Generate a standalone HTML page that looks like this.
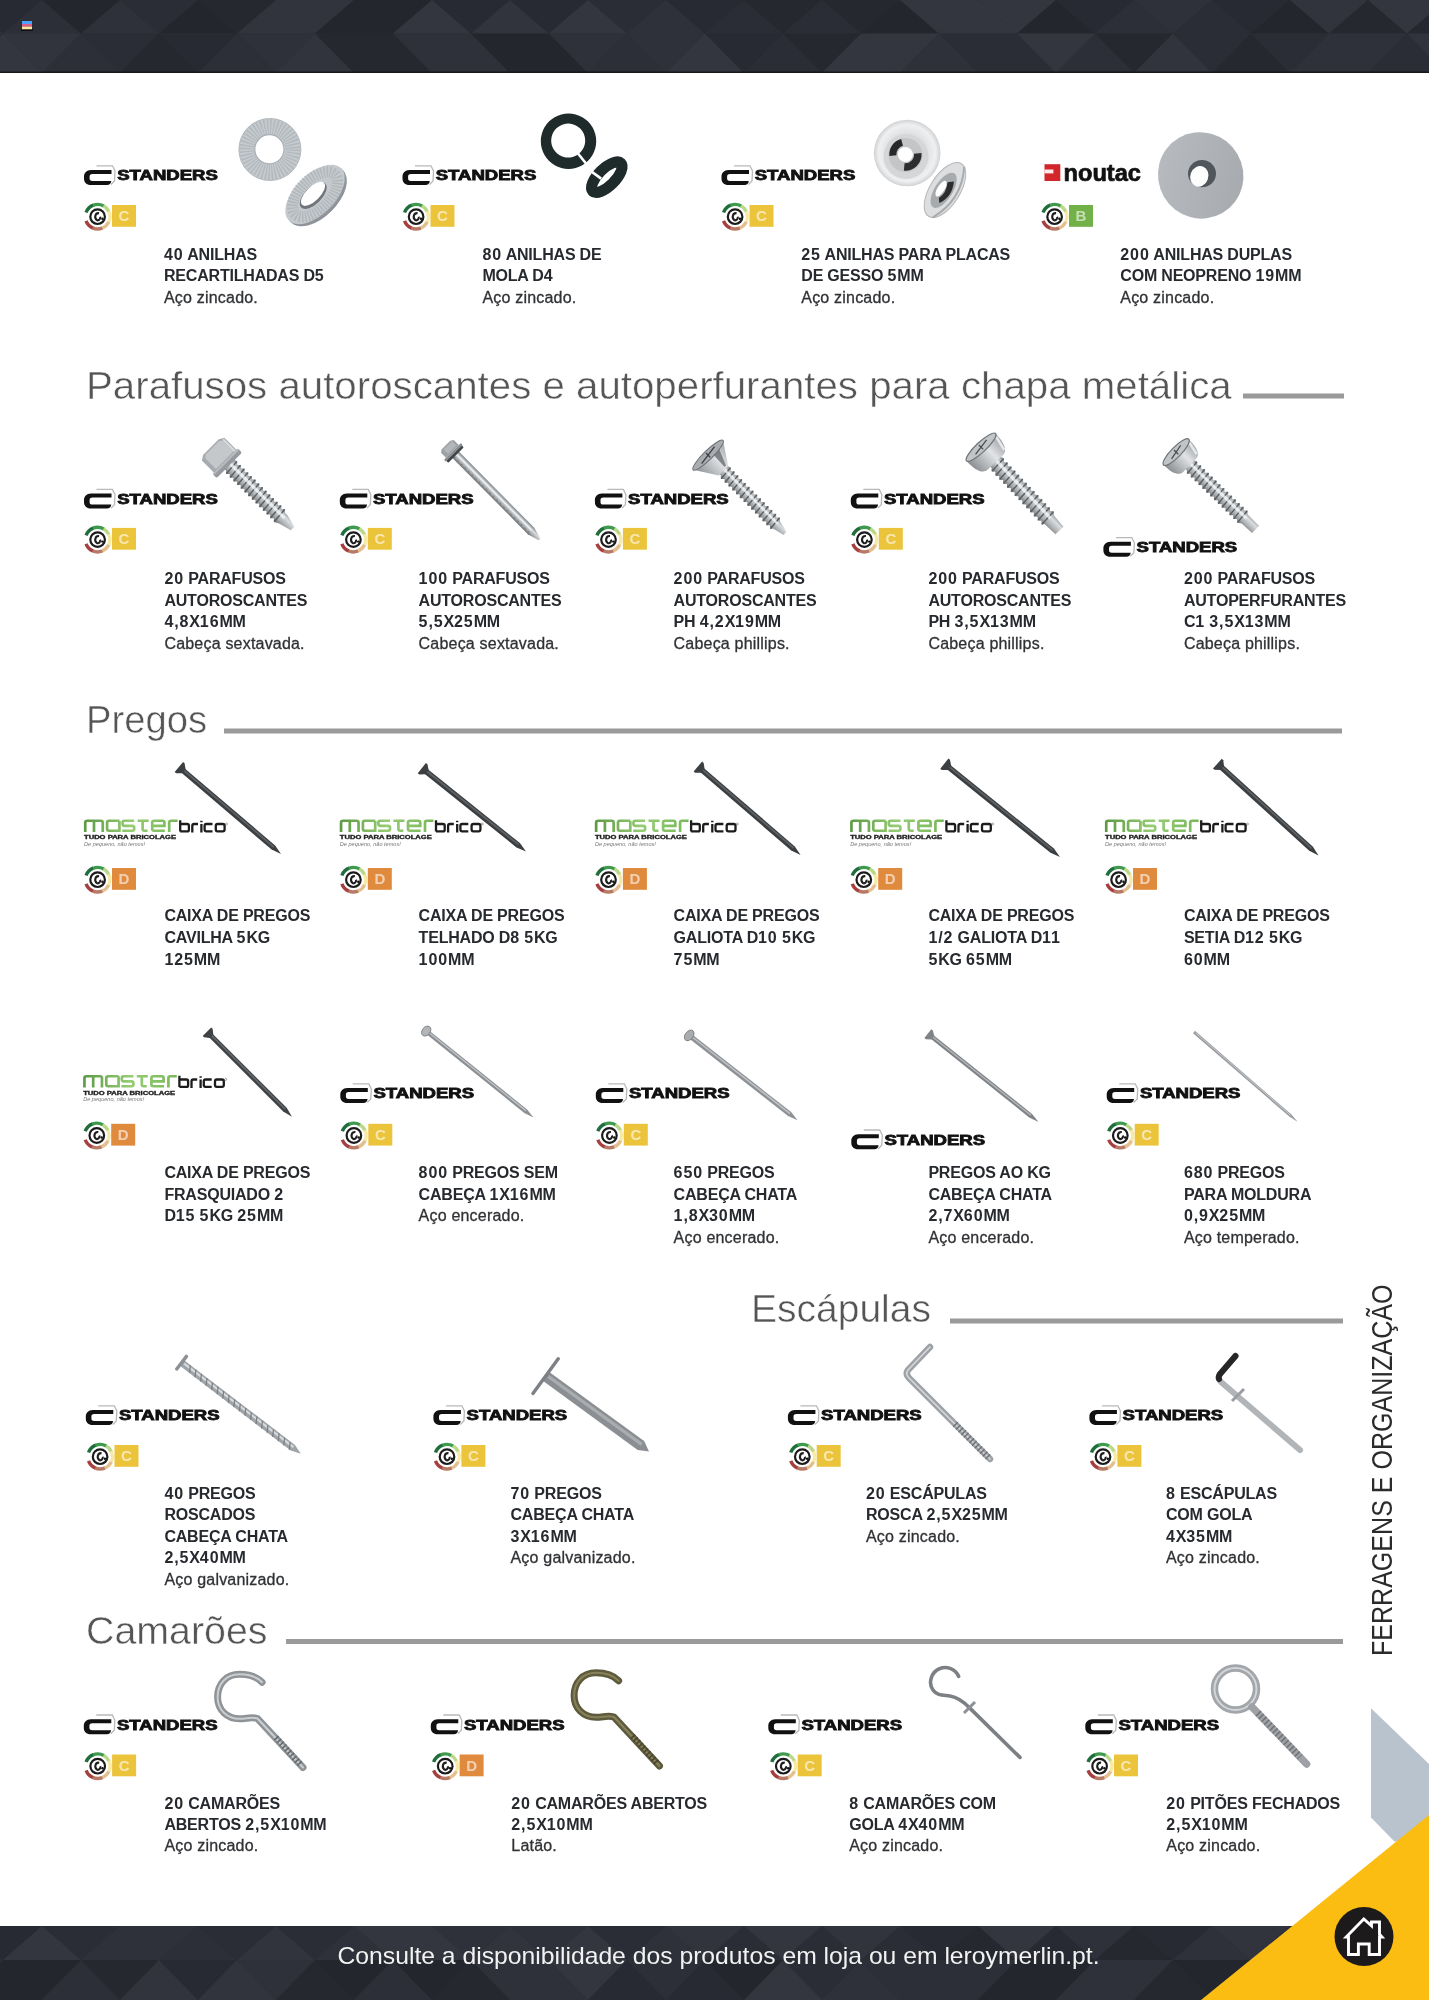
<!DOCTYPE html>
<html lang="pt"><head><meta charset="utf-8"><title>Ferragens e Organização</title>
<style>
html,body{margin:0;padding:0;background:#fff;}
body{width:1429px;height:2000px;position:relative;overflow:hidden;font-family:"Liberation Sans", sans-serif;filter:blur(0.35px);}
svg.bg{position:absolute;left:0;top:0;}
.tb,.tr{position:absolute;font-size:16px;line-height:20px;white-space:nowrap;color:#26292d;}
.tb{font-weight:bold;letter-spacing:-0.2px;}
.tb .d{letter-spacing:0.9px;}
.tr{font-weight:normal;letter-spacing:0.2px;color:#303235;-webkit-text-stroke:0.3px #303235;}
.h{position:absolute;line-height:1;white-space:nowrap;color:#555;-webkit-text-stroke:0.5px #fff;}
.h span{display:inline-block;transform-origin:0 0;}
</style></head>
<body>
<svg class="bg" width="1429" height="2000" viewBox="0 0 1429 2000">
<defs>
<linearGradient id="gmaster" gradientUnits="userSpaceOnUse" x1="0" x2="94" y1="0" y2="0">
 <stop offset="0" stop-color="#5d9a44"/><stop offset="0.5" stop-color="#95cc74"/><stop offset="1" stop-color="#79b85a"/>
</linearGradient>
<linearGradient id="gsteel" x1="0" x2="0" y1="0" y2="1">
 <stop offset="0" stop-color="#7f8488"/><stop offset="0.35" stop-color="#dadddf"/><stop offset="0.7" stop-color="#a9adb0"/><stop offset="1" stop-color="#6a6f73"/>
</linearGradient>
<linearGradient id="gsteel2" x1="0" x2="0" y1="0" y2="1">
 <stop offset="0" stop-color="#9da1a5"/><stop offset="0.4" stop-color="#e1e3e5"/><stop offset="1" stop-color="#8a8e92"/>
</linearGradient>
<radialGradient id="gcup" cx="0.5" cy="0.5" r="0.5">
 <stop offset="0.6" stop-color="#dfe1e3"/><stop offset="0.85" stop-color="#eff0f1"/><stop offset="0.97" stop-color="#d6d8da"/><stop offset="1" stop-color="#c9cbcd"/>
</radialGradient>
<radialGradient id="gcupin" cx="0.45" cy="0.45" r="0.5">
 <stop offset="0.3" stop-color="#555a5e"/><stop offset="0.7" stop-color="#9b9fa2"/><stop offset="1" stop-color="#d0d2d4"/>
</radialGradient>
<linearGradient id="gneo" x1="0" x2="1" y1="0" y2="1">
 <stop offset="0" stop-color="#b9bdc1"/><stop offset="0.6" stop-color="#adb1b5"/><stop offset="1" stop-color="#a4a8ac"/>
</linearGradient>
</defs>
<rect x="0" y="0" width="1429" height="73" fill="#2b2e36"/>
<polygon points="-75.0,33.6 -36.0,0.0 3.0,33.6" fill="#31343c"/>
<polygon points="-36.0,0.0 3.0,33.6 42.0,0.0" fill="#272a32"/>
<polygon points="3.0,33.6 42.0,0.0 81.0,33.6" fill="#2c2f37"/>
<polygon points="42.0,0.0 81.0,33.6 120.0,0.0" fill="#23262d"/>
<polygon points="81.0,33.6 120.0,0.0 159.0,33.6" fill="#2e3139"/>
<polygon points="120.0,0.0 159.0,33.6 198.0,0.0" fill="#2a2d35"/>
<polygon points="159.0,33.6 198.0,0.0 237.0,33.6" fill="#23262d"/>
<polygon points="198.0,0.0 237.0,33.6 276.0,0.0" fill="#25282f"/>
<polygon points="237.0,33.6 276.0,0.0 315.0,33.6" fill="#31343c"/>
<polygon points="276.0,0.0 315.0,33.6 354.0,0.0" fill="#31343c"/>
<polygon points="315.0,33.6 354.0,0.0 393.0,33.6" fill="#23262d"/>
<polygon points="354.0,0.0 393.0,33.6 432.0,0.0" fill="#23262d"/>
<polygon points="393.0,33.6 432.0,0.0 471.0,33.6" fill="#33363e"/>
<polygon points="432.0,0.0 471.0,33.6 510.0,0.0" fill="#272a32"/>
<polygon points="471.0,33.6 510.0,0.0 549.0,33.6" fill="#31343c"/>
<polygon points="510.0,0.0 549.0,33.6 588.0,0.0" fill="#272a32"/>
<polygon points="549.0,33.6 588.0,0.0 627.0,33.6" fill="#33363e"/>
<polygon points="588.0,0.0 627.0,33.6 666.0,0.0" fill="#2a2d35"/>
<polygon points="627.0,33.6 666.0,0.0 705.0,33.6" fill="#2e3139"/>
<polygon points="666.0,0.0 705.0,33.6 744.0,0.0" fill="#272a32"/>
<polygon points="705.0,33.6 744.0,0.0 783.0,33.6" fill="#2a2d35"/>
<polygon points="744.0,0.0 783.0,33.6 822.0,0.0" fill="#25282f"/>
<polygon points="783.0,33.6 822.0,0.0 861.0,33.6" fill="#2a2d35"/>
<polygon points="822.0,0.0 861.0,33.6 900.0,0.0" fill="#25282f"/>
<polygon points="861.0,33.6 900.0,0.0 939.0,33.6" fill="#23262d"/>
<polygon points="900.0,0.0 939.0,33.6 978.0,0.0" fill="#33363e"/>
<polygon points="939.0,33.6 978.0,0.0 1017.0,33.6" fill="#33363e"/>
<polygon points="978.0,0.0 1017.0,33.6 1056.0,0.0" fill="#33363e"/>
<polygon points="1017.0,33.6 1056.0,0.0 1095.0,33.6" fill="#23262d"/>
<polygon points="1056.0,0.0 1095.0,33.6 1134.0,0.0" fill="#272a32"/>
<polygon points="1095.0,33.6 1134.0,0.0 1173.0,33.6" fill="#2c2f37"/>
<polygon points="1134.0,0.0 1173.0,33.6 1212.0,0.0" fill="#2e3139"/>
<polygon points="1173.0,33.6 1212.0,0.0 1251.0,33.6" fill="#2a2d35"/>
<polygon points="1212.0,0.0 1251.0,33.6 1290.0,0.0" fill="#272a32"/>
<polygon points="1251.0,33.6 1290.0,0.0 1329.0,33.6" fill="#23262d"/>
<polygon points="1290.0,0.0 1329.0,33.6 1368.0,0.0" fill="#31343c"/>
<polygon points="1329.0,33.6 1368.0,0.0 1407.0,33.6" fill="#25282f"/>
<polygon points="1368.0,0.0 1407.0,33.6 1446.0,0.0" fill="#33363e"/>
<polygon points="1407.0,33.6 1446.0,0.0 1485.0,33.6" fill="#25282f"/>
<polygon points="1446.0,0.0 1485.0,33.6 1524.0,0.0" fill="#33363e"/>
<polygon points="1485.0,33.6 1524.0,0.0 1563.0,33.6" fill="#33363e"/>
<polygon points="-75.0,33.6 -36.0,73.0 3.0,33.6" fill="#2c2f37"/>
<polygon points="-36.0,73.0 3.0,33.6 42.0,73.0" fill="#33363e"/>
<polygon points="3.0,33.6 42.0,73.0 81.0,33.6" fill="#31343c"/>
<polygon points="42.0,73.0 81.0,33.6 120.0,73.0" fill="#2c2f37"/>
<polygon points="81.0,33.6 120.0,73.0 159.0,33.6" fill="#2a2d35"/>
<polygon points="120.0,73.0 159.0,33.6 198.0,73.0" fill="#25282f"/>
<polygon points="159.0,33.6 198.0,73.0 237.0,33.6" fill="#272a32"/>
<polygon points="198.0,73.0 237.0,33.6 276.0,73.0" fill="#2c2f37"/>
<polygon points="237.0,33.6 276.0,73.0 315.0,33.6" fill="#2e3139"/>
<polygon points="276.0,73.0 315.0,33.6 354.0,73.0" fill="#31343c"/>
<polygon points="315.0,33.6 354.0,73.0 393.0,33.6" fill="#25282f"/>
<polygon points="354.0,73.0 393.0,33.6 432.0,73.0" fill="#25282f"/>
<polygon points="393.0,33.6 432.0,73.0 471.0,33.6" fill="#2e3139"/>
<polygon points="432.0,73.0 471.0,33.6 510.0,73.0" fill="#2e3139"/>
<polygon points="471.0,33.6 510.0,73.0 549.0,33.6" fill="#23262d"/>
<polygon points="510.0,73.0 549.0,33.6 588.0,73.0" fill="#23262d"/>
<polygon points="549.0,33.6 588.0,73.0 627.0,33.6" fill="#2e3139"/>
<polygon points="588.0,73.0 627.0,33.6 666.0,73.0" fill="#2c2f37"/>
<polygon points="627.0,33.6 666.0,73.0 705.0,33.6" fill="#2e3139"/>
<polygon points="666.0,73.0 705.0,33.6 744.0,73.0" fill="#33363e"/>
<polygon points="705.0,33.6 744.0,73.0 783.0,33.6" fill="#272a32"/>
<polygon points="744.0,73.0 783.0,33.6 822.0,73.0" fill="#2a2d35"/>
<polygon points="783.0,33.6 822.0,73.0 861.0,33.6" fill="#25282f"/>
<polygon points="822.0,73.0 861.0,33.6 900.0,73.0" fill="#33363e"/>
<polygon points="861.0,33.6 900.0,73.0 939.0,33.6" fill="#33363e"/>
<polygon points="900.0,73.0 939.0,33.6 978.0,73.0" fill="#2e3139"/>
<polygon points="939.0,33.6 978.0,73.0 1017.0,33.6" fill="#2a2d35"/>
<polygon points="978.0,73.0 1017.0,33.6 1056.0,73.0" fill="#2a2d35"/>
<polygon points="1017.0,33.6 1056.0,73.0 1095.0,33.6" fill="#33363e"/>
<polygon points="1056.0,73.0 1095.0,33.6 1134.0,73.0" fill="#2c2f37"/>
<polygon points="1095.0,33.6 1134.0,73.0 1173.0,33.6" fill="#25282f"/>
<polygon points="1134.0,73.0 1173.0,33.6 1212.0,73.0" fill="#31343c"/>
<polygon points="1173.0,33.6 1212.0,73.0 1251.0,33.6" fill="#2a2d35"/>
<polygon points="1212.0,73.0 1251.0,33.6 1290.0,73.0" fill="#25282f"/>
<polygon points="1251.0,33.6 1290.0,73.0 1329.0,33.6" fill="#2a2d35"/>
<polygon points="1290.0,73.0 1329.0,33.6 1368.0,73.0" fill="#2e3139"/>
<polygon points="1329.0,33.6 1368.0,73.0 1407.0,33.6" fill="#2e3139"/>
<polygon points="1368.0,73.0 1407.0,33.6 1446.0,73.0" fill="#2a2d35"/>
<polygon points="1407.0,33.6 1446.0,73.0 1485.0,33.6" fill="#31343c"/>
<polygon points="1446.0,73.0 1485.0,33.6 1524.0,73.0" fill="#33363e"/>
<polygon points="1485.0,33.6 1524.0,73.0 1563.0,33.6" fill="#25282f"/>
<rect x="0" y="71.5" width="1429" height="1.5" fill="#15171b"/>
<g><rect x="22" y="21" width="10" height="3" fill="#4aa3ff"/><rect x="22" y="24" width="10" height="2.5" fill="#e05a8a"/><rect x="22" y="26.5" width="10" height="3" fill="#ffe6a0"/><rect x="21" y="29.5" width="12" height="1.5" fill="#111"/></g>
<rect x="0" y="1926" width="1429" height="74" fill="#2b2e36"/>
<polygon points="-75.0,1960.0 -36.0,1926.0 3.0,1960.0" fill="#2c2f37"/>
<polygon points="-36.0,1926.0 3.0,1960.0 42.0,1926.0" fill="#272a32"/>
<polygon points="3.0,1960.0 42.0,1926.0 81.0,1960.0" fill="#33363e"/>
<polygon points="42.0,1926.0 81.0,1960.0 120.0,1926.0" fill="#2a2d35"/>
<polygon points="81.0,1960.0 120.0,1926.0 159.0,1960.0" fill="#2e3139"/>
<polygon points="120.0,1926.0 159.0,1960.0 198.0,1926.0" fill="#2e3139"/>
<polygon points="159.0,1960.0 198.0,1926.0 237.0,1960.0" fill="#2c2f37"/>
<polygon points="198.0,1926.0 237.0,1960.0 276.0,1926.0" fill="#2a2d35"/>
<polygon points="237.0,1960.0 276.0,1926.0 315.0,1960.0" fill="#31343c"/>
<polygon points="276.0,1926.0 315.0,1960.0 354.0,1926.0" fill="#2a2d35"/>
<polygon points="315.0,1960.0 354.0,1926.0 393.0,1960.0" fill="#2e3139"/>
<polygon points="354.0,1926.0 393.0,1960.0 432.0,1926.0" fill="#33363e"/>
<polygon points="393.0,1960.0 432.0,1926.0 471.0,1960.0" fill="#33363e"/>
<polygon points="432.0,1926.0 471.0,1960.0 510.0,1926.0" fill="#2e3139"/>
<polygon points="471.0,1960.0 510.0,1926.0 549.0,1960.0" fill="#31343c"/>
<polygon points="510.0,1926.0 549.0,1960.0 588.0,1926.0" fill="#2e3139"/>
<polygon points="549.0,1960.0 588.0,1926.0 627.0,1960.0" fill="#33363e"/>
<polygon points="588.0,1926.0 627.0,1960.0 666.0,1926.0" fill="#2a2d35"/>
<polygon points="627.0,1960.0 666.0,1926.0 705.0,1960.0" fill="#2e3139"/>
<polygon points="666.0,1926.0 705.0,1960.0 744.0,1926.0" fill="#31343c"/>
<polygon points="705.0,1960.0 744.0,1926.0 783.0,1960.0" fill="#2a2d35"/>
<polygon points="744.0,1926.0 783.0,1960.0 822.0,1926.0" fill="#33363e"/>
<polygon points="783.0,1960.0 822.0,1926.0 861.0,1960.0" fill="#2a2d35"/>
<polygon points="822.0,1926.0 861.0,1960.0 900.0,1926.0" fill="#31343c"/>
<polygon points="861.0,1960.0 900.0,1926.0 939.0,1960.0" fill="#2a2d35"/>
<polygon points="900.0,1926.0 939.0,1960.0 978.0,1926.0" fill="#272a32"/>
<polygon points="939.0,1960.0 978.0,1926.0 1017.0,1960.0" fill="#25282f"/>
<polygon points="978.0,1926.0 1017.0,1960.0 1056.0,1926.0" fill="#33363e"/>
<polygon points="1017.0,1960.0 1056.0,1926.0 1095.0,1960.0" fill="#272a32"/>
<polygon points="1056.0,1926.0 1095.0,1960.0 1134.0,1926.0" fill="#2e3139"/>
<polygon points="1095.0,1960.0 1134.0,1926.0 1173.0,1960.0" fill="#25282f"/>
<polygon points="1134.0,1926.0 1173.0,1960.0 1212.0,1926.0" fill="#272a32"/>
<polygon points="1173.0,1960.0 1212.0,1926.0 1251.0,1960.0" fill="#2e3139"/>
<polygon points="1212.0,1926.0 1251.0,1960.0 1290.0,1926.0" fill="#31343c"/>
<polygon points="1251.0,1960.0 1290.0,1926.0 1329.0,1960.0" fill="#2c2f37"/>
<polygon points="1290.0,1926.0 1329.0,1960.0 1368.0,1926.0" fill="#2e3139"/>
<polygon points="1329.0,1960.0 1368.0,1926.0 1407.0,1960.0" fill="#2e3139"/>
<polygon points="1368.0,1926.0 1407.0,1960.0 1446.0,1926.0" fill="#2a2d35"/>
<polygon points="1407.0,1960.0 1446.0,1926.0 1485.0,1960.0" fill="#31343c"/>
<polygon points="1446.0,1926.0 1485.0,1960.0 1524.0,1926.0" fill="#23262d"/>
<polygon points="1485.0,1960.0 1524.0,1926.0 1563.0,1960.0" fill="#33363e"/>
<polygon points="-75.0,1960.0 -36.0,2000.0 3.0,1960.0" fill="#2c2f37"/>
<polygon points="-36.0,2000.0 3.0,1960.0 42.0,2000.0" fill="#23262d"/>
<polygon points="3.0,1960.0 42.0,2000.0 81.0,1960.0" fill="#23262d"/>
<polygon points="42.0,2000.0 81.0,1960.0 120.0,2000.0" fill="#2c2f37"/>
<polygon points="81.0,1960.0 120.0,2000.0 159.0,1960.0" fill="#25282f"/>
<polygon points="120.0,2000.0 159.0,1960.0 198.0,2000.0" fill="#31343c"/>
<polygon points="159.0,1960.0 198.0,2000.0 237.0,1960.0" fill="#272a32"/>
<polygon points="198.0,2000.0 237.0,1960.0 276.0,2000.0" fill="#31343c"/>
<polygon points="237.0,1960.0 276.0,2000.0 315.0,1960.0" fill="#2e3139"/>
<polygon points="276.0,2000.0 315.0,1960.0 354.0,2000.0" fill="#25282f"/>
<polygon points="315.0,1960.0 354.0,2000.0 393.0,1960.0" fill="#23262d"/>
<polygon points="354.0,2000.0 393.0,1960.0 432.0,2000.0" fill="#2c2f37"/>
<polygon points="393.0,1960.0 432.0,2000.0 471.0,1960.0" fill="#23262d"/>
<polygon points="432.0,2000.0 471.0,1960.0 510.0,2000.0" fill="#25282f"/>
<polygon points="471.0,1960.0 510.0,2000.0 549.0,1960.0" fill="#2e3139"/>
<polygon points="510.0,2000.0 549.0,1960.0 588.0,2000.0" fill="#2e3139"/>
<polygon points="549.0,1960.0 588.0,2000.0 627.0,1960.0" fill="#33363e"/>
<polygon points="588.0,2000.0 627.0,1960.0 666.0,2000.0" fill="#272a32"/>
<polygon points="627.0,1960.0 666.0,2000.0 705.0,1960.0" fill="#2c2f37"/>
<polygon points="666.0,2000.0 705.0,1960.0 744.0,2000.0" fill="#272a32"/>
<polygon points="705.0,1960.0 744.0,2000.0 783.0,1960.0" fill="#23262d"/>
<polygon points="744.0,2000.0 783.0,1960.0 822.0,2000.0" fill="#33363e"/>
<polygon points="783.0,1960.0 822.0,2000.0 861.0,1960.0" fill="#2a2d35"/>
<polygon points="822.0,2000.0 861.0,1960.0 900.0,2000.0" fill="#2e3139"/>
<polygon points="861.0,1960.0 900.0,2000.0 939.0,1960.0" fill="#2c2f37"/>
<polygon points="900.0,2000.0 939.0,1960.0 978.0,2000.0" fill="#2c2f37"/>
<polygon points="939.0,1960.0 978.0,2000.0 1017.0,1960.0" fill="#2c2f37"/>
<polygon points="978.0,2000.0 1017.0,1960.0 1056.0,2000.0" fill="#23262d"/>
<polygon points="1017.0,1960.0 1056.0,2000.0 1095.0,1960.0" fill="#23262d"/>
<polygon points="1056.0,2000.0 1095.0,1960.0 1134.0,2000.0" fill="#2e3139"/>
<polygon points="1095.0,1960.0 1134.0,2000.0 1173.0,1960.0" fill="#2e3139"/>
<polygon points="1134.0,2000.0 1173.0,1960.0 1212.0,2000.0" fill="#25282f"/>
<polygon points="1173.0,1960.0 1212.0,2000.0 1251.0,1960.0" fill="#23262d"/>
<polygon points="1212.0,2000.0 1251.0,1960.0 1290.0,2000.0" fill="#2e3139"/>
<polygon points="1251.0,1960.0 1290.0,2000.0 1329.0,1960.0" fill="#2a2d35"/>
<polygon points="1290.0,2000.0 1329.0,1960.0 1368.0,2000.0" fill="#25282f"/>
<polygon points="1329.0,1960.0 1368.0,2000.0 1407.0,1960.0" fill="#23262d"/>
<polygon points="1368.0,2000.0 1407.0,1960.0 1446.0,2000.0" fill="#25282f"/>
<polygon points="1407.0,1960.0 1446.0,2000.0 1485.0,1960.0" fill="#33363e"/>
<polygon points="1446.0,2000.0 1485.0,1960.0 1524.0,2000.0" fill="#2c2f37"/>
<polygon points="1485.0,1960.0 1524.0,2000.0 1563.0,1960.0" fill="#2a2d35"/>
<polygon points="1371,1708.3 1429,1764 1429,1840 1394.4,1841.4 1371,1817.5" fill="#b9c3cd"/>
<polygon points="1201,2000 1429,1815 1429,2000" fill="#fbbd12"/>
<circle cx="1364" cy="1936.6" r="29.5" fill="#1c1a1a"/>
<path d="M1348.5,1954.5 L1348.5,1937 L1346.2,1937 L1363.8,1919 L1371.5,1925.8 L1371.5,1922 L1379.5,1922 L1379.5,1934.2 L1382,1937 L1379.5,1937 L1379.5,1954.5 L1369.2,1954.5 L1369.2,1944 L1358.4,1944 L1358.4,1954.5 Z" fill="none" stroke="#fff" stroke-width="2.9" stroke-linejoin="miter"/>
<rect x="1243" y="393.5" width="101" height="5" fill="#9a9a9a"/>
<rect x="224" y="728.5" width="1118" height="5" fill="#9a9a9a"/>
<rect x="950" y="1318.5" width="393" height="5" fill="#9a9a9a"/>
<rect x="286" y="1639" width="1057" height="5" fill="#9a9a9a"/>
<g transform="translate(84.0,170.0)"><path d="M12.5,-4.2 L28.5,-4.2 L31,1 L30.5,11 L27,14.5" fill="none" stroke="#b9b9b9" stroke-width="1.3"/><path d="M27.5,0 L7,0 C2.5,0 0,3 0,6.5 L0,8.5 C0,12.5 2.5,15 7,15 L23,15 C25.5,15 27,13.5 27.3,11 L8.5,11 C6.3,11 5.6,10 5.6,8.3 L5.6,6.8 C5.6,5 6.3,4 8.5,4 L27.5,4 Z" fill="#111"/><text x="33.2" y="10.3" font-family='"Liberation Sans", sans-serif' font-weight="bold" font-size="14" textLength="100.6" lengthAdjust="spacingAndGlyphs" fill="#111" stroke="#111" stroke-width="0.85">STANDERS</text></g>
<path d="M86.04,212.49 A12.3,12.3 0 0 1 93.39,205.14" fill="none" stroke="#1f6e3c" stroke-width="3.4" opacity="1"/><path d="M92.99,205.30 A12.3,12.3 0 0 1 103.75,206.05" fill="none" stroke="#3f9a4e" stroke-width="3.4" opacity="1"/><path d="M103.37,205.84 A12.3,12.3 0 0 1 108.75,211.50" fill="none" stroke="#a9cf6a" stroke-width="3.4" opacity="0.8"/><path d="M108.56,211.12 A12.3,12.3 0 0 1 108.75,221.90" fill="none" stroke="#f1da6a" stroke-width="3.4" opacity="0.6"/><path d="M108.75,221.90 A12.3,12.3 0 0 1 101.81,228.26" fill="none" stroke="#d9a45c" stroke-width="3.4" opacity="0.7"/><path d="M102.21,228.10 A12.3,12.3 0 0 1 92.40,227.85" fill="none" stroke="#b06a55" stroke-width="3.4" opacity="0.9"/><path d="M92.79,228.02 A12.3,12.3 0 0 1 86.04,220.91" fill="none" stroke="#a5403e" stroke-width="3.4" opacity="1"/><circle cx="97.60" cy="216.70" r="7.3" fill="#fff" stroke="#1b1b1b" stroke-width="2.2"/><path d="M99.10,213.20 C95.10,212.70 94.10,217.70 96.60,219.90 C98.60,221.20 101.10,218.70 100.10,216.70" fill="none" stroke="#1e1e1e" stroke-width="2.1"/><circle cx="102.40" cy="218.70" r="1.2" fill="#111"/><rect x="112.0" y="205.0" width="24" height="21.8" fill="#ecc43c"/><text x="124.0" y="221.4" text-anchor="middle" font-family='"Liberation Sans", sans-serif' font-weight="bold" font-size="15" fill="#fff" fill-opacity="0.6">C</text>
<g transform="translate(402.5,170.0)"><path d="M12.5,-4.2 L28.5,-4.2 L31,1 L30.5,11 L27,14.5" fill="none" stroke="#b9b9b9" stroke-width="1.3"/><path d="M27.5,0 L7,0 C2.5,0 0,3 0,6.5 L0,8.5 C0,12.5 2.5,15 7,15 L23,15 C25.5,15 27,13.5 27.3,11 L8.5,11 C6.3,11 5.6,10 5.6,8.3 L5.6,6.8 C5.6,5 6.3,4 8.5,4 L27.5,4 Z" fill="#111"/><text x="33.2" y="10.3" font-family='"Liberation Sans", sans-serif' font-weight="bold" font-size="14" textLength="100.6" lengthAdjust="spacingAndGlyphs" fill="#111" stroke="#111" stroke-width="0.85">STANDERS</text></g>
<path d="M404.54,212.49 A12.3,12.3 0 0 1 411.89,205.14" fill="none" stroke="#1f6e3c" stroke-width="3.4" opacity="1"/><path d="M411.49,205.30 A12.3,12.3 0 0 1 422.25,206.05" fill="none" stroke="#3f9a4e" stroke-width="3.4" opacity="1"/><path d="M421.87,205.84 A12.3,12.3 0 0 1 427.25,211.50" fill="none" stroke="#a9cf6a" stroke-width="3.4" opacity="0.8"/><path d="M427.06,211.12 A12.3,12.3 0 0 1 427.25,221.90" fill="none" stroke="#f1da6a" stroke-width="3.4" opacity="0.6"/><path d="M427.25,221.90 A12.3,12.3 0 0 1 420.31,228.26" fill="none" stroke="#d9a45c" stroke-width="3.4" opacity="0.7"/><path d="M420.71,228.10 A12.3,12.3 0 0 1 410.90,227.85" fill="none" stroke="#b06a55" stroke-width="3.4" opacity="0.9"/><path d="M411.29,228.02 A12.3,12.3 0 0 1 404.54,220.91" fill="none" stroke="#a5403e" stroke-width="3.4" opacity="1"/><circle cx="416.10" cy="216.70" r="7.3" fill="#fff" stroke="#1b1b1b" stroke-width="2.2"/><path d="M417.60,213.20 C413.60,212.70 412.60,217.70 415.10,219.90 C417.10,221.20 419.60,218.70 418.60,216.70" fill="none" stroke="#1e1e1e" stroke-width="2.1"/><circle cx="420.90" cy="218.70" r="1.2" fill="#111"/><rect x="430.5" y="205.0" width="24" height="21.8" fill="#ecc43c"/><text x="442.5" y="221.4" text-anchor="middle" font-family='"Liberation Sans", sans-serif' font-weight="bold" font-size="15" fill="#fff" fill-opacity="0.6">C</text>
<g transform="translate(721.5,170.0)"><path d="M12.5,-4.2 L28.5,-4.2 L31,1 L30.5,11 L27,14.5" fill="none" stroke="#b9b9b9" stroke-width="1.3"/><path d="M27.5,0 L7,0 C2.5,0 0,3 0,6.5 L0,8.5 C0,12.5 2.5,15 7,15 L23,15 C25.5,15 27,13.5 27.3,11 L8.5,11 C6.3,11 5.6,10 5.6,8.3 L5.6,6.8 C5.6,5 6.3,4 8.5,4 L27.5,4 Z" fill="#111"/><text x="33.2" y="10.3" font-family='"Liberation Sans", sans-serif' font-weight="bold" font-size="14" textLength="100.6" lengthAdjust="spacingAndGlyphs" fill="#111" stroke="#111" stroke-width="0.85">STANDERS</text></g>
<path d="M723.54,212.49 A12.3,12.3 0 0 1 730.89,205.14" fill="none" stroke="#1f6e3c" stroke-width="3.4" opacity="1"/><path d="M730.49,205.30 A12.3,12.3 0 0 1 741.25,206.05" fill="none" stroke="#3f9a4e" stroke-width="3.4" opacity="1"/><path d="M740.87,205.84 A12.3,12.3 0 0 1 746.25,211.50" fill="none" stroke="#a9cf6a" stroke-width="3.4" opacity="0.8"/><path d="M746.06,211.12 A12.3,12.3 0 0 1 746.25,221.90" fill="none" stroke="#f1da6a" stroke-width="3.4" opacity="0.6"/><path d="M746.25,221.90 A12.3,12.3 0 0 1 739.31,228.26" fill="none" stroke="#d9a45c" stroke-width="3.4" opacity="0.7"/><path d="M739.71,228.10 A12.3,12.3 0 0 1 729.90,227.85" fill="none" stroke="#b06a55" stroke-width="3.4" opacity="0.9"/><path d="M730.29,228.02 A12.3,12.3 0 0 1 723.54,220.91" fill="none" stroke="#a5403e" stroke-width="3.4" opacity="1"/><circle cx="735.10" cy="216.70" r="7.3" fill="#fff" stroke="#1b1b1b" stroke-width="2.2"/><path d="M736.60,213.20 C732.60,212.70 731.60,217.70 734.10,219.90 C736.10,221.20 738.60,218.70 737.60,216.70" fill="none" stroke="#1e1e1e" stroke-width="2.1"/><circle cx="739.90" cy="218.70" r="1.2" fill="#111"/><rect x="749.5" y="205.0" width="24" height="21.8" fill="#ecc43c"/><text x="761.5" y="221.4" text-anchor="middle" font-family='"Liberation Sans", sans-serif' font-weight="bold" font-size="15" fill="#fff" fill-opacity="0.6">C</text>
<g transform="translate(1044.5,164.2)"><rect x="0" y="0" width="15.8" height="16.8" fill="#d3262b"/><rect x="0" y="5.3" width="8.9" height="3.9" fill="#fbeaea"/><text x="19" y="16.8" font-family='"Liberation Sans", sans-serif' font-weight="bold" font-size="24" stroke="#121212" stroke-width="0.7" textLength="77.5" lengthAdjust="spacingAndGlyphs" fill="#121212">noutac</text></g>
<path d="M1043.04,212.49 A12.3,12.3 0 0 1 1050.39,205.14" fill="none" stroke="#1f6e3c" stroke-width="3.4" opacity="1"/><path d="M1049.99,205.30 A12.3,12.3 0 0 1 1060.75,206.05" fill="none" stroke="#3f9a4e" stroke-width="3.4" opacity="1"/><path d="M1060.37,205.84 A12.3,12.3 0 0 1 1065.75,211.50" fill="none" stroke="#a9cf6a" stroke-width="3.4" opacity="0.8"/><path d="M1065.56,211.12 A12.3,12.3 0 0 1 1065.75,221.90" fill="none" stroke="#f1da6a" stroke-width="3.4" opacity="0.6"/><path d="M1065.75,221.90 A12.3,12.3 0 0 1 1058.81,228.26" fill="none" stroke="#d9a45c" stroke-width="3.4" opacity="0.7"/><path d="M1059.21,228.10 A12.3,12.3 0 0 1 1049.40,227.85" fill="none" stroke="#b06a55" stroke-width="3.4" opacity="0.9"/><path d="M1049.79,228.02 A12.3,12.3 0 0 1 1043.04,220.91" fill="none" stroke="#a5403e" stroke-width="3.4" opacity="1"/><circle cx="1054.60" cy="216.70" r="7.3" fill="#fff" stroke="#1b1b1b" stroke-width="2.2"/><path d="M1056.10,213.20 C1052.10,212.70 1051.10,217.70 1053.60,219.90 C1055.60,221.20 1058.10,218.70 1057.10,216.70" fill="none" stroke="#1e1e1e" stroke-width="2.1"/><circle cx="1059.40" cy="218.70" r="1.2" fill="#111"/><rect x="1069.0" y="205.0" width="24" height="21.8" fill="#72b048"/><text x="1081.0" y="221.4" text-anchor="middle" font-family='"Liberation Sans", sans-serif' font-weight="bold" font-size="15" fill="#fff" fill-opacity="0.6">B</text>
<g><circle cx="269.9" cy="149.5" r="31" fill="#c4cace" stroke="#b3b9bd" stroke-width="1"/><circle cx="269.9" cy="149.5" r="23" fill="none" stroke="#b2b8bc" stroke-width="15" stroke-dasharray="1.3 1.7"/><circle cx="269.4" cy="149.3" r="14.6" fill="#fff" stroke="#a9afb3" stroke-width="1.2"/></g>
<g transform="translate(315,194.4) rotate(-45)"><ellipse cx="0" cy="2.5" rx="37" ry="21" fill="#8e9499"/><ellipse cx="0" cy="0" rx="37" ry="20" fill="#c3c9cd"/><ellipse cx="0" cy="0" rx="28" ry="15" fill="none" stroke="#b0b6ba" stroke-width="11" stroke-dasharray="1.3 1.7"/><ellipse cx="-2" cy="-0.5" rx="17" ry="8.5" fill="#6f757a"/><ellipse cx="-1" cy="-1.8" rx="15.5" ry="7" fill="#fff"/></g>
<path d="M568.5,113.5 a27.7,27.7 0 1 0 0.01,0 Z M568.2,123.6 a17,17 0 1 1 -0.01,0 Z" fill="#1e2b2a" fill-rule="evenodd"/>
<path d="M577.2,152.5 L588,166" stroke="#fff" stroke-width="2.6"/>
<g transform="translate(606.8,177.2) rotate(-45)"><ellipse cx="0" cy="0" rx="19.9" ry="8.5" fill="none" stroke="#1e2b2a" stroke-width="11"/><path d="M-7,-16 L-5,-3" stroke="#fff" stroke-width="2.6"/></g>
<g><circle cx="907.2" cy="153" r="33.3" fill="url(#gcup)"/><circle cx="906" cy="156.5" r="22.5" fill="#d4d6d8"/><circle cx="905.5" cy="155" r="17" fill="#c3c5c7"/><path d="M892.85,155.59 A12.5,12.5 0 0 1 902.06,142.43" fill="none" stroke="#26282a" stroke-width="7"/><path d="M917.75,153.41 A12.5,12.5 0 0 1 904.21,166.95" fill="none" stroke="#2c2e30" stroke-width="7.5"/><circle cx="905.3" cy="154.5" r="7.6" fill="#fff"/></g>
<g transform="translate(945,190) rotate(-58)"><ellipse cx="0" cy="0" rx="31" ry="15" fill="#dcdedf" stroke="#b4b6b8" stroke-width="1"/><ellipse cx="-1" cy="-1" rx="20" ry="9" fill="#a8abae"/><path d="M-14,2 Q-2,10 12,3 L8,-2 Q-2,3 -10,-1 Z" fill="#2a2c2e"/><ellipse cx="-1" cy="-4" rx="9" ry="3.5" fill="#fff"/><path d="M-30,4 Q0,20 30,4" fill="none" stroke="#a9acaf" stroke-width="2"/></g>
<g><ellipse cx="1200.7" cy="175.4" rx="42.5" ry="43.5" transform="rotate(-30 1200.7 175.4)" fill="url(#gneo)"/><ellipse cx="1202" cy="173.7" rx="14" ry="13.6" fill="#50565b"/><ellipse cx="1199.3" cy="176.3" rx="9" ry="10.5" transform="rotate(20 1199.3 176.3)" fill="#fdfdfd"/></g>
<g transform="translate(84.0,493.6)"><path d="M12.5,-4.2 L28.5,-4.2 L31,1 L30.5,11 L27,14.5" fill="none" stroke="#b9b9b9" stroke-width="1.3"/><path d="M27.5,0 L7,0 C2.5,0 0,3 0,6.5 L0,8.5 C0,12.5 2.5,15 7,15 L23,15 C25.5,15 27,13.5 27.3,11 L8.5,11 C6.3,11 5.6,10 5.6,8.3 L5.6,6.8 C5.6,5 6.3,4 8.5,4 L27.5,4 Z" fill="#111"/><text x="33.2" y="10.3" font-family='"Liberation Sans", sans-serif' font-weight="bold" font-size="14" textLength="100.6" lengthAdjust="spacingAndGlyphs" fill="#111" stroke="#111" stroke-width="0.85">STANDERS</text></g>
<path d="M86.04,535.39 A12.3,12.3 0 0 1 93.39,528.04" fill="none" stroke="#1f6e3c" stroke-width="3.4" opacity="1"/><path d="M92.99,528.20 A12.3,12.3 0 0 1 103.75,528.95" fill="none" stroke="#3f9a4e" stroke-width="3.4" opacity="1"/><path d="M103.37,528.74 A12.3,12.3 0 0 1 108.75,534.40" fill="none" stroke="#a9cf6a" stroke-width="3.4" opacity="0.8"/><path d="M108.56,534.02 A12.3,12.3 0 0 1 108.75,544.80" fill="none" stroke="#f1da6a" stroke-width="3.4" opacity="0.6"/><path d="M108.75,544.80 A12.3,12.3 0 0 1 101.81,551.16" fill="none" stroke="#d9a45c" stroke-width="3.4" opacity="0.7"/><path d="M102.21,551.00 A12.3,12.3 0 0 1 92.40,550.75" fill="none" stroke="#b06a55" stroke-width="3.4" opacity="0.9"/><path d="M92.79,550.92 A12.3,12.3 0 0 1 86.04,543.81" fill="none" stroke="#a5403e" stroke-width="3.4" opacity="1"/><circle cx="97.60" cy="539.60" r="7.3" fill="#fff" stroke="#1b1b1b" stroke-width="2.2"/><path d="M99.10,536.10 C95.10,535.60 94.10,540.60 96.60,542.80 C98.60,544.10 101.10,541.60 100.10,539.60" fill="none" stroke="#1e1e1e" stroke-width="2.1"/><circle cx="102.40" cy="541.60" r="1.2" fill="#111"/><rect x="112.0" y="527.9" width="24" height="21.8" fill="#ecc43c"/><text x="124.0" y="544.3" text-anchor="middle" font-family='"Liberation Sans", sans-serif' font-weight="bold" font-size="15" fill="#fff" fill-opacity="0.6">C</text>
<g transform="translate(339.8,493.6)"><path d="M12.5,-4.2 L28.5,-4.2 L31,1 L30.5,11 L27,14.5" fill="none" stroke="#b9b9b9" stroke-width="1.3"/><path d="M27.5,0 L7,0 C2.5,0 0,3 0,6.5 L0,8.5 C0,12.5 2.5,15 7,15 L23,15 C25.5,15 27,13.5 27.3,11 L8.5,11 C6.3,11 5.6,10 5.6,8.3 L5.6,6.8 C5.6,5 6.3,4 8.5,4 L27.5,4 Z" fill="#111"/><text x="33.2" y="10.3" font-family='"Liberation Sans", sans-serif' font-weight="bold" font-size="14" textLength="100.6" lengthAdjust="spacingAndGlyphs" fill="#111" stroke="#111" stroke-width="0.85">STANDERS</text></g>
<path d="M341.84,535.39 A12.3,12.3 0 0 1 349.19,528.04" fill="none" stroke="#1f6e3c" stroke-width="3.4" opacity="1"/><path d="M348.79,528.20 A12.3,12.3 0 0 1 359.55,528.95" fill="none" stroke="#3f9a4e" stroke-width="3.4" opacity="1"/><path d="M359.17,528.74 A12.3,12.3 0 0 1 364.55,534.40" fill="none" stroke="#a9cf6a" stroke-width="3.4" opacity="0.8"/><path d="M364.36,534.02 A12.3,12.3 0 0 1 364.55,544.80" fill="none" stroke="#f1da6a" stroke-width="3.4" opacity="0.6"/><path d="M364.55,544.80 A12.3,12.3 0 0 1 357.61,551.16" fill="none" stroke="#d9a45c" stroke-width="3.4" opacity="0.7"/><path d="M358.01,551.00 A12.3,12.3 0 0 1 348.20,550.75" fill="none" stroke="#b06a55" stroke-width="3.4" opacity="0.9"/><path d="M348.59,550.92 A12.3,12.3 0 0 1 341.84,543.81" fill="none" stroke="#a5403e" stroke-width="3.4" opacity="1"/><circle cx="353.40" cy="539.60" r="7.3" fill="#fff" stroke="#1b1b1b" stroke-width="2.2"/><path d="M354.90,536.10 C350.90,535.60 349.90,540.60 352.40,542.80 C354.40,544.10 356.90,541.60 355.90,539.60" fill="none" stroke="#1e1e1e" stroke-width="2.1"/><circle cx="358.20" cy="541.60" r="1.2" fill="#111"/><rect x="367.8" y="527.9" width="24" height="21.8" fill="#ecc43c"/><text x="379.8" y="544.3" text-anchor="middle" font-family='"Liberation Sans", sans-serif' font-weight="bold" font-size="15" fill="#fff" fill-opacity="0.6">C</text>
<g transform="translate(594.9,493.6)"><path d="M12.5,-4.2 L28.5,-4.2 L31,1 L30.5,11 L27,14.5" fill="none" stroke="#b9b9b9" stroke-width="1.3"/><path d="M27.5,0 L7,0 C2.5,0 0,3 0,6.5 L0,8.5 C0,12.5 2.5,15 7,15 L23,15 C25.5,15 27,13.5 27.3,11 L8.5,11 C6.3,11 5.6,10 5.6,8.3 L5.6,6.8 C5.6,5 6.3,4 8.5,4 L27.5,4 Z" fill="#111"/><text x="33.2" y="10.3" font-family='"Liberation Sans", sans-serif' font-weight="bold" font-size="14" textLength="100.6" lengthAdjust="spacingAndGlyphs" fill="#111" stroke="#111" stroke-width="0.85">STANDERS</text></g>
<path d="M596.94,535.39 A12.3,12.3 0 0 1 604.29,528.04" fill="none" stroke="#1f6e3c" stroke-width="3.4" opacity="1"/><path d="M603.89,528.20 A12.3,12.3 0 0 1 614.65,528.95" fill="none" stroke="#3f9a4e" stroke-width="3.4" opacity="1"/><path d="M614.27,528.74 A12.3,12.3 0 0 1 619.65,534.40" fill="none" stroke="#a9cf6a" stroke-width="3.4" opacity="0.8"/><path d="M619.46,534.02 A12.3,12.3 0 0 1 619.65,544.80" fill="none" stroke="#f1da6a" stroke-width="3.4" opacity="0.6"/><path d="M619.65,544.80 A12.3,12.3 0 0 1 612.71,551.16" fill="none" stroke="#d9a45c" stroke-width="3.4" opacity="0.7"/><path d="M613.11,551.00 A12.3,12.3 0 0 1 603.30,550.75" fill="none" stroke="#b06a55" stroke-width="3.4" opacity="0.9"/><path d="M603.69,550.92 A12.3,12.3 0 0 1 596.94,543.81" fill="none" stroke="#a5403e" stroke-width="3.4" opacity="1"/><circle cx="608.50" cy="539.60" r="7.3" fill="#fff" stroke="#1b1b1b" stroke-width="2.2"/><path d="M610.00,536.10 C606.00,535.60 605.00,540.60 607.50,542.80 C609.50,544.10 612.00,541.60 611.00,539.60" fill="none" stroke="#1e1e1e" stroke-width="2.1"/><circle cx="613.30" cy="541.60" r="1.2" fill="#111"/><rect x="622.9" y="527.9" width="24" height="21.8" fill="#ecc43c"/><text x="634.9" y="544.3" text-anchor="middle" font-family='"Liberation Sans", sans-serif' font-weight="bold" font-size="15" fill="#fff" fill-opacity="0.6">C</text>
<g transform="translate(850.8,493.6)"><path d="M12.5,-4.2 L28.5,-4.2 L31,1 L30.5,11 L27,14.5" fill="none" stroke="#b9b9b9" stroke-width="1.3"/><path d="M27.5,0 L7,0 C2.5,0 0,3 0,6.5 L0,8.5 C0,12.5 2.5,15 7,15 L23,15 C25.5,15 27,13.5 27.3,11 L8.5,11 C6.3,11 5.6,10 5.6,8.3 L5.6,6.8 C5.6,5 6.3,4 8.5,4 L27.5,4 Z" fill="#111"/><text x="33.2" y="10.3" font-family='"Liberation Sans", sans-serif' font-weight="bold" font-size="14" textLength="100.6" lengthAdjust="spacingAndGlyphs" fill="#111" stroke="#111" stroke-width="0.85">STANDERS</text></g>
<path d="M852.84,535.39 A12.3,12.3 0 0 1 860.19,528.04" fill="none" stroke="#1f6e3c" stroke-width="3.4" opacity="1"/><path d="M859.79,528.20 A12.3,12.3 0 0 1 870.55,528.95" fill="none" stroke="#3f9a4e" stroke-width="3.4" opacity="1"/><path d="M870.17,528.74 A12.3,12.3 0 0 1 875.55,534.40" fill="none" stroke="#a9cf6a" stroke-width="3.4" opacity="0.8"/><path d="M875.36,534.02 A12.3,12.3 0 0 1 875.55,544.80" fill="none" stroke="#f1da6a" stroke-width="3.4" opacity="0.6"/><path d="M875.55,544.80 A12.3,12.3 0 0 1 868.61,551.16" fill="none" stroke="#d9a45c" stroke-width="3.4" opacity="0.7"/><path d="M869.01,551.00 A12.3,12.3 0 0 1 859.20,550.75" fill="none" stroke="#b06a55" stroke-width="3.4" opacity="0.9"/><path d="M859.59,550.92 A12.3,12.3 0 0 1 852.84,543.81" fill="none" stroke="#a5403e" stroke-width="3.4" opacity="1"/><circle cx="864.40" cy="539.60" r="7.3" fill="#fff" stroke="#1b1b1b" stroke-width="2.2"/><path d="M865.90,536.10 C861.90,535.60 860.90,540.60 863.40,542.80 C865.40,544.10 867.90,541.60 866.90,539.60" fill="none" stroke="#1e1e1e" stroke-width="2.1"/><circle cx="869.20" cy="541.60" r="1.2" fill="#111"/><rect x="878.8" y="527.9" width="24" height="21.8" fill="#ecc43c"/><text x="890.8" y="544.3" text-anchor="middle" font-family='"Liberation Sans", sans-serif' font-weight="bold" font-size="15" fill="#fff" fill-opacity="0.6">C</text>
<g transform="translate(1103.4,541.8)"><path d="M12.5,-4.2 L28.5,-4.2 L31,1 L30.5,11 L27,14.5" fill="none" stroke="#b9b9b9" stroke-width="1.3"/><path d="M27.5,0 L7,0 C2.5,0 0,3 0,6.5 L0,8.5 C0,12.5 2.5,15 7,15 L23,15 C25.5,15 27,13.5 27.3,11 L8.5,11 C6.3,11 5.6,10 5.6,8.3 L5.6,6.8 C5.6,5 6.3,4 8.5,4 L27.5,4 Z" fill="#111"/><text x="33.2" y="10.3" font-family='"Liberation Sans", sans-serif' font-weight="bold" font-size="14" textLength="100.6" lengthAdjust="spacingAndGlyphs" fill="#111" stroke="#111" stroke-width="0.85">STANDERS</text></g>
<g transform="translate(211.00,447.00) rotate(45.00)"><path d="M24.0,-6.5 L28.6,-8.5 L31.2,-5.9 L33.8,-8.5 L36.4,-5.9 L39.0,-8.5 L41.6,-5.9 L44.2,-8.5 L46.8,-5.9 L49.4,-8.5 L52.0,-5.9 L54.6,-8.5 L57.2,-5.9 L59.8,-8.5 L62.4,-5.9 L65.0,-8.5 L67.6,-5.9 L70.2,-8.5 L72.8,-5.9 L75.4,-8.5 L78.0,-5.9 L80.6,-8.5 L83.2,-5.9 L85.8,-8.5 L88.4,-5.9 L91.0,-8.5 L93.6,-5.9 L96.2,-8.5 L98.8,-5.9 L102.3,-5.9 L115.3,-2.5 L115.3,2.5 L102.3,5.9 L97.4,8.5 L94.8,5.9 L92.2,8.5 L89.6,5.9 L87.0,8.5 L84.4,5.9 L81.8,8.5 L79.2,5.9 L76.6,8.5 L74.0,5.9 L71.4,8.5 L68.8,5.9 L66.2,8.5 L63.6,5.9 L61.0,8.5 L58.4,5.9 L55.8,8.5 L53.2,5.9 L50.6,8.5 L48.0,5.9 L45.4,8.5 L42.8,5.9 L40.2,8.5 L37.6,5.9 L35.0,8.5 L32.4,5.9 L29.8,8.5 L27.2,5.9 L24.0,6.5 Z" fill="url(#gsteel)"/><path d="M28.6,-7.9 L29.8,7.9" stroke="#575c60" stroke-width="1.4"/><path d="M33.8,-7.9 L35.0,7.9" stroke="#575c60" stroke-width="1.4"/><path d="M39.0,-7.9 L40.2,7.9" stroke="#575c60" stroke-width="1.4"/><path d="M44.2,-7.9 L45.4,7.9" stroke="#575c60" stroke-width="1.4"/><path d="M49.4,-7.9 L50.6,7.9" stroke="#575c60" stroke-width="1.4"/><path d="M54.6,-7.9 L55.8,7.9" stroke="#575c60" stroke-width="1.4"/><path d="M59.8,-7.9 L61.0,7.9" stroke="#575c60" stroke-width="1.4"/><path d="M65.0,-7.9 L66.2,7.9" stroke="#575c60" stroke-width="1.4"/><path d="M70.2,-7.9 L71.4,7.9" stroke="#575c60" stroke-width="1.4"/><path d="M75.4,-7.9 L76.6,7.9" stroke="#575c60" stroke-width="1.4"/><path d="M80.6,-7.9 L81.8,7.9" stroke="#575c60" stroke-width="1.4"/><path d="M85.8,-7.9 L87.0,7.9" stroke="#575c60" stroke-width="1.4"/><path d="M91.0,-7.9 L92.2,7.9" stroke="#575c60" stroke-width="1.4"/><path d="M96.2,-7.9 L97.4,7.9" stroke="#575c60" stroke-width="1.4"/><path d="M26,-1.7 L102.25840533340725,-1.7" stroke="#f4f6f7" stroke-width="3.0" opacity="0.75"/><path d="M0,-11.0 L3,-16.0 L21,-16.0 L21,16.0 L3,16.0 L0,11.0 Z" fill="#a7abaf"/><path d="M1.5,-10.0 L4,-13.0 L19,-13.0 L19,12.0 L4,12.0 L1.5,9.0 Z" fill="#c5c8cb"/><path d="M3,-14.0 L20,-14.0" stroke="#d8dadc" stroke-width="2"/><rect x="20" y="-18.0" width="6" height="36" rx="2" fill="#979b9f"/><rect x="20" y="-18.0" width="2" height="36" rx="1" fill="#b9bcbf"/></g>
<g transform="translate(446.00,445.00) rotate(45.30)"><path d="M12,-4.5 L120.93795545291044,-4.5 L132.93795545291044,-1.2 L132.93795545291044,1.2 L120.93795545291044,4.5 L12,4.5 Z" fill="url(#gsteel)"/><path d="M14,2.5 L120.93795545291044,2.5" stroke="#7d8286" stroke-width="1.2" stroke-dasharray="2 3"/><path d="M14,-0.9 L120.93795545291044,-0.9" stroke="#f4f6f7" stroke-width="1.6" opacity="0.75"/><path d="M0,-6.0 L2,-9.0 L9,-9.0 L9,9.0 L2,9.0 L0,6.0 Z" fill="#9ea2a6"/><rect x="1.5" y="-7.0" width="6" height="12" fill="#b4b7ba"/><rect x="9" y="-12.0" width="2.8" height="24" rx="1" fill="#8a8e92"/><rect x="11.6" y="-11.0" width="2.6" height="22" rx="1" fill="#3f4447"/></g>
<g transform="translate(706.00,453.00) rotate(45.54)"><path d="M23.0,-5.5 L27.7,-7.5 L30.4,-4.9 L33.1,-7.5 L35.8,-4.9 L38.5,-7.5 L41.2,-4.9 L43.9,-7.5 L46.6,-4.9 L49.3,-7.5 L52.0,-4.9 L54.7,-7.5 L57.4,-4.9 L60.1,-7.5 L62.8,-4.9 L65.5,-7.5 L68.2,-4.9 L70.9,-7.5 L73.6,-4.9 L76.3,-7.5 L79.0,-4.9 L81.7,-7.5 L84.4,-4.9 L87.1,-7.5 L89.8,-4.9 L92.5,-7.5 L95.2,-4.9 L97.9,-7.5 L100.6,-4.9 L100.8,-4.9 L112.8,-2.0 L112.8,2.0 L100.8,4.9 L99.1,7.5 L96.4,4.9 L93.7,7.5 L91.0,4.9 L88.3,7.5 L85.6,4.9 L82.9,7.5 L80.2,4.9 L77.5,7.5 L74.8,4.9 L72.1,7.5 L69.4,4.9 L66.7,7.5 L64.0,4.9 L61.3,7.5 L58.6,4.9 L55.9,7.5 L53.2,4.9 L50.5,7.5 L47.8,4.9 L45.1,7.5 L42.4,4.9 L39.7,7.5 L37.0,4.9 L34.3,7.5 L31.6,4.9 L28.9,7.5 L26.2,4.9 L23.0,5.5 Z" fill="url(#gsteel)"/><path d="M27.7,-6.9 L28.9,6.9" stroke="#575c60" stroke-width="1.4"/><path d="M33.1,-6.9 L34.3,6.9" stroke="#575c60" stroke-width="1.4"/><path d="M38.5,-6.9 L39.7,6.9" stroke="#575c60" stroke-width="1.4"/><path d="M43.9,-6.9 L45.1,6.9" stroke="#575c60" stroke-width="1.4"/><path d="M49.3,-6.9 L50.5,6.9" stroke="#575c60" stroke-width="1.4"/><path d="M54.7,-6.9 L55.9,6.9" stroke="#575c60" stroke-width="1.4"/><path d="M60.1,-6.9 L61.3,6.9" stroke="#575c60" stroke-width="1.4"/><path d="M65.5,-6.9 L66.7,6.9" stroke="#575c60" stroke-width="1.4"/><path d="M70.9,-6.9 L72.1,6.9" stroke="#575c60" stroke-width="1.4"/><path d="M76.3,-6.9 L77.5,6.9" stroke="#575c60" stroke-width="1.4"/><path d="M81.7,-6.9 L82.9,6.9" stroke="#575c60" stroke-width="1.4"/><path d="M87.1,-6.9 L88.3,6.9" stroke="#575c60" stroke-width="1.4"/><path d="M92.5,-6.9 L93.7,6.9" stroke="#575c60" stroke-width="1.4"/><path d="M97.9,-6.9 L99.1,6.9" stroke="#575c60" stroke-width="1.4"/><path d="M25,-1.5 L100.7885189192588,-1.5" stroke="#f4f6f7" stroke-width="2.6" opacity="0.75"/><path d="M3,-21.0 L25,-6.5 L25,6.5 L3,21.0 Z" fill="url(#gsteel2)"/><path d="M5,-12.6 L23,-5.5 L23,-3.5 L5,-4.2 Z" fill="#5b6064" opacity="0.7"/><ellipse cx="3" cy="0" rx="4.5" ry="21.0" fill="#a9adb1" stroke="#6c7073" stroke-width="1"/><path d="M1.5,-10.5 L4.5,10.5 M0,0 L6,0" stroke="#3c3f42" stroke-width="1.3"/></g>
<g transform="translate(979.00,445.00) rotate(46.73)"><path d="M22.0,-7.0 L26.8,-9.0 L29.6,-6.4 L32.4,-9.0 L35.2,-6.4 L38.0,-9.0 L40.8,-6.4 L43.6,-9.0 L46.4,-6.4 L49.2,-9.0 L52.0,-6.4 L54.8,-9.0 L57.6,-6.4 L60.4,-9.0 L63.2,-6.4 L66.0,-9.0 L68.8,-6.4 L71.6,-9.0 L74.4,-6.4 L77.2,-9.0 L80.0,-6.4 L82.8,-9.0 L85.6,-6.4 L88.4,-9.0 L91.2,-6.4 L94.0,-9.0 L96.8,-6.4 L99.6,-9.0 L102.4,-6.4 L102.4,-6.4 L117.4,-5.5 L117.4,5.5 L102.4,6.4 L100.8,9.0 L98.0,6.4 L95.2,9.0 L92.4,6.4 L89.6,9.0 L86.8,6.4 L84.0,9.0 L81.2,6.4 L78.4,9.0 L75.6,6.4 L72.8,9.0 L70.0,6.4 L67.2,9.0 L64.4,6.4 L61.6,9.0 L58.8,6.4 L56.0,9.0 L53.2,6.4 L50.4,9.0 L47.6,6.4 L44.8,9.0 L42.0,6.4 L39.2,9.0 L36.4,6.4 L33.6,9.0 L30.8,6.4 L28.0,9.0 L25.2,6.4 L22.0,7.0 Z" fill="url(#gsteel)"/><path d="M26.8,-8.4 L28.0,8.4" stroke="#575c60" stroke-width="1.4"/><path d="M32.4,-8.4 L33.6,8.4" stroke="#575c60" stroke-width="1.4"/><path d="M38.0,-8.4 L39.2,8.4" stroke="#575c60" stroke-width="1.4"/><path d="M43.6,-8.4 L44.8,8.4" stroke="#575c60" stroke-width="1.4"/><path d="M49.2,-8.4 L50.4,8.4" stroke="#575c60" stroke-width="1.4"/><path d="M54.8,-8.4 L56.0,8.4" stroke="#575c60" stroke-width="1.4"/><path d="M60.4,-8.4 L61.6,8.4" stroke="#575c60" stroke-width="1.4"/><path d="M66.0,-8.4 L67.2,8.4" stroke="#575c60" stroke-width="1.4"/><path d="M71.6,-8.4 L72.8,8.4" stroke="#575c60" stroke-width="1.4"/><path d="M77.2,-8.4 L78.4,8.4" stroke="#575c60" stroke-width="1.4"/><path d="M82.8,-8.4 L84.0,8.4" stroke="#575c60" stroke-width="1.4"/><path d="M88.4,-8.4 L89.6,8.4" stroke="#575c60" stroke-width="1.4"/><path d="M94.0,-8.4 L95.2,8.4" stroke="#575c60" stroke-width="1.4"/><path d="M99.6,-8.4 L100.8,8.4" stroke="#575c60" stroke-width="1.4"/><path d="M24,-1.8 L102.43295959823205,-1.8" stroke="#f4f6f7" stroke-width="3.1" opacity="0.75"/><path d="M3,-20.0 C16.8,-20.0 24,-17.0 24,-10.0 L24,10.0 C24,17.0 16.8,20.0 3,20.0 Z" fill="url(#gsteel2)"/><path d="M6,-18.0 L21,-15.0" stroke="#f5f6f7" stroke-width="2.5" opacity="0.8"/><ellipse cx="3" cy="0" rx="5" ry="20.0" fill="#c2c5c8" stroke="#6f7376" stroke-width="1.2"/><path d="M1.5,-9.0 L4.5,9.0 M0,0 L6,0" stroke="#4a4d50" stroke-width="1.3"/></g>
<g transform="translate(1174.00,450.00) rotate(44.29)"><path d="M20.0,-6.0 L24.7,-8.0 L27.4,-5.4 L30.1,-8.0 L32.8,-5.4 L35.5,-8.0 L38.2,-5.4 L40.9,-8.0 L43.6,-5.4 L46.3,-8.0 L49.0,-5.4 L51.7,-8.0 L54.4,-5.4 L57.1,-8.0 L59.8,-5.4 L62.5,-8.0 L65.2,-5.4 L67.9,-8.0 L70.6,-5.4 L73.3,-8.0 L76.0,-5.4 L78.7,-8.0 L81.4,-5.4 L84.1,-8.0 L86.8,-5.4 L89.5,-8.0 L92.2,-5.4 L94.9,-8.0 L97.6,-5.4 L99.9,-5.4 L113.9,-5.0 L113.9,5.0 L99.9,5.4 L96.1,8.0 L93.4,5.4 L90.7,8.0 L88.0,5.4 L85.3,8.0 L82.6,5.4 L79.9,8.0 L77.2,5.4 L74.5,8.0 L71.8,5.4 L69.1,8.0 L66.4,5.4 L63.7,8.0 L61.0,5.4 L58.3,8.0 L55.6,5.4 L52.9,8.0 L50.2,5.4 L47.5,8.0 L44.8,5.4 L42.1,8.0 L39.4,5.4 L36.7,8.0 L34.0,5.4 L31.3,8.0 L28.6,5.4 L25.9,8.0 L23.2,5.4 L20.0,6.0 Z" fill="url(#gsteel)"/><path d="M24.7,-7.4 L25.9,7.4" stroke="#575c60" stroke-width="1.4"/><path d="M30.1,-7.4 L31.3,7.4" stroke="#575c60" stroke-width="1.4"/><path d="M35.5,-7.4 L36.7,7.4" stroke="#575c60" stroke-width="1.4"/><path d="M40.9,-7.4 L42.1,7.4" stroke="#575c60" stroke-width="1.4"/><path d="M46.3,-7.4 L47.5,7.4" stroke="#575c60" stroke-width="1.4"/><path d="M51.7,-7.4 L52.9,7.4" stroke="#575c60" stroke-width="1.4"/><path d="M57.1,-7.4 L58.3,7.4" stroke="#575c60" stroke-width="1.4"/><path d="M62.5,-7.4 L63.7,7.4" stroke="#575c60" stroke-width="1.4"/><path d="M67.9,-7.4 L69.1,7.4" stroke="#575c60" stroke-width="1.4"/><path d="M73.3,-7.4 L74.5,7.4" stroke="#575c60" stroke-width="1.4"/><path d="M78.7,-7.4 L79.9,7.4" stroke="#575c60" stroke-width="1.4"/><path d="M84.1,-7.4 L85.3,7.4" stroke="#575c60" stroke-width="1.4"/><path d="M89.5,-7.4 L90.7,7.4" stroke="#575c60" stroke-width="1.4"/><path d="M94.9,-7.4 L96.1,7.4" stroke="#575c60" stroke-width="1.4"/><path d="M22,-1.6 L99.852975367357,-1.6" stroke="#f4f6f7" stroke-width="2.8" opacity="0.75"/><path d="M3,-18.0 C15.4,-18.0 22,-15.0 22,-9.0 L22,9.0 C22,15.0 15.4,18.0 3,18.0 Z" fill="url(#gsteel2)"/><path d="M6,-16.0 L19,-13.0" stroke="#f5f6f7" stroke-width="2.5" opacity="0.8"/><ellipse cx="3" cy="0" rx="5" ry="18.0" fill="#c2c5c8" stroke="#6f7376" stroke-width="1.2"/><path d="M1.5,-8.1 L4.5,8.1 M0,0 L6,0" stroke="#4a4d50" stroke-width="1.3"/></g>
<g transform="translate(84.0,819.5)"><path d="M1.25,12.5 V3.2 Q1.25,1.25 3.2,1.25 H16.8 Q18.75,1.25 18.75,3.2 V12.5 M10,1.25 V12.5 M35.4,1.25 H25 Q23.1,1.25 23.1,3.2 V9.3 Q23.1,11.25 25,11.25 H33.5 Q35.4,11.25 35.4,9.3 V1.25 M35.4,9 V12.5 M50.2,1.25 H40.5 Q38.6,1.25 38.6,3.2 V4.4 Q38.6,6.3 40.5,6.3 H48.3 Q50.2,6.3 50.2,8.2 V9.3 Q50.2,11.25 48.3,11.25 H38.3 M53.6,1.25 H64.6 M58.6,1.25 V9.3 Q58.6,11.25 60.5,11.25 H63.5 M68.2,6.4 H80.4 V3.2 Q80.4,1.25 78.5,1.25 H70.1 Q68.2,1.25 68.2,3.2 V9.3 Q68.2,11.25 70.1,11.25 H80.8 M85.2,12.5 V3.2 Q85.2,1.25 87.1,1.25 H93.6" fill="none" stroke="url(#gmaster)" stroke-width="2.7"/><path d="M96.2,0.8 V11.9 M96.2,4.5 H103.2 Q104.9,4.5 104.9,6.2 V10.2 Q104.9,11.9 103.2,11.9 H96.2 M108.3,12.9 V6.4 Q108.3,4.5 110.2,4.5 H114 M117.4,4.5 V12.9 M117.4,1.2 V2.8 M128.5,4.5 H122.4 Q120.6,4.5 120.6,6.3 V10.1 Q120.6,11.9 122.4,11.9 H128.5 M133.6,4.5 H138.8 Q140.6,4.5 140.6,6.3 V10.1 Q140.6,11.9 138.8,11.9 H133.6 Q131.8,11.9 131.8,10.1 V6.3 Q131.8,4.5 133.6,4.5 Z" fill="none" stroke="#1c1c1c" stroke-width="2.3"/><circle cx="142.5" cy="4.5" r="1" fill="none" stroke="#555" stroke-width="0.5"/><text x="0" y="19.8" font-family='"Liberation Sans", sans-serif' font-weight="bold" font-size="4.6" stroke="#222" stroke-width="0.3" textLength="92" lengthAdjust="spacingAndGlyphs" fill="#222">TUDO PARA BRICOLAGE</text><text x="0" y="26.3" font-family='"Liberation Sans", sans-serif' font-style="italic" font-size="4.5" textLength="61" lengthAdjust="spacingAndGlyphs" fill="#777">De pequeno, não temos!</text></g>
<path d="M86.04,875.49 A12.3,12.3 0 0 1 93.39,868.14" fill="none" stroke="#1f6e3c" stroke-width="3.4" opacity="1"/><path d="M92.99,868.30 A12.3,12.3 0 0 1 103.75,869.05" fill="none" stroke="#3f9a4e" stroke-width="3.4" opacity="1"/><path d="M103.37,868.84 A12.3,12.3 0 0 1 108.75,874.50" fill="none" stroke="#a9cf6a" stroke-width="3.4" opacity="0.8"/><path d="M108.56,874.12 A12.3,12.3 0 0 1 108.75,884.90" fill="none" stroke="#f1da6a" stroke-width="3.4" opacity="0.6"/><path d="M108.75,884.90 A12.3,12.3 0 0 1 101.81,891.26" fill="none" stroke="#d9a45c" stroke-width="3.4" opacity="0.7"/><path d="M102.21,891.10 A12.3,12.3 0 0 1 92.40,890.85" fill="none" stroke="#b06a55" stroke-width="3.4" opacity="0.9"/><path d="M92.79,891.02 A12.3,12.3 0 0 1 86.04,883.91" fill="none" stroke="#a5403e" stroke-width="3.4" opacity="1"/><circle cx="97.60" cy="879.70" r="7.3" fill="#fff" stroke="#1b1b1b" stroke-width="2.2"/><path d="M99.10,876.20 C95.10,875.70 94.10,880.70 96.60,882.90 C98.60,884.20 101.10,881.70 100.10,879.70" fill="none" stroke="#1e1e1e" stroke-width="2.1"/><circle cx="102.40" cy="881.70" r="1.2" fill="#111"/><rect x="112.0" y="868.0" width="24" height="21.8" fill="#e08a3e"/><text x="124.0" y="884.4" text-anchor="middle" font-family='"Liberation Sans", sans-serif' font-weight="bold" font-size="15" fill="#fff" fill-opacity="0.6">D</text>
<g transform="translate(339.8,819.5)"><path d="M1.25,12.5 V3.2 Q1.25,1.25 3.2,1.25 H16.8 Q18.75,1.25 18.75,3.2 V12.5 M10,1.25 V12.5 M35.4,1.25 H25 Q23.1,1.25 23.1,3.2 V9.3 Q23.1,11.25 25,11.25 H33.5 Q35.4,11.25 35.4,9.3 V1.25 M35.4,9 V12.5 M50.2,1.25 H40.5 Q38.6,1.25 38.6,3.2 V4.4 Q38.6,6.3 40.5,6.3 H48.3 Q50.2,6.3 50.2,8.2 V9.3 Q50.2,11.25 48.3,11.25 H38.3 M53.6,1.25 H64.6 M58.6,1.25 V9.3 Q58.6,11.25 60.5,11.25 H63.5 M68.2,6.4 H80.4 V3.2 Q80.4,1.25 78.5,1.25 H70.1 Q68.2,1.25 68.2,3.2 V9.3 Q68.2,11.25 70.1,11.25 H80.8 M85.2,12.5 V3.2 Q85.2,1.25 87.1,1.25 H93.6" fill="none" stroke="url(#gmaster)" stroke-width="2.7"/><path d="M96.2,0.8 V11.9 M96.2,4.5 H103.2 Q104.9,4.5 104.9,6.2 V10.2 Q104.9,11.9 103.2,11.9 H96.2 M108.3,12.9 V6.4 Q108.3,4.5 110.2,4.5 H114 M117.4,4.5 V12.9 M117.4,1.2 V2.8 M128.5,4.5 H122.4 Q120.6,4.5 120.6,6.3 V10.1 Q120.6,11.9 122.4,11.9 H128.5 M133.6,4.5 H138.8 Q140.6,4.5 140.6,6.3 V10.1 Q140.6,11.9 138.8,11.9 H133.6 Q131.8,11.9 131.8,10.1 V6.3 Q131.8,4.5 133.6,4.5 Z" fill="none" stroke="#1c1c1c" stroke-width="2.3"/><circle cx="142.5" cy="4.5" r="1" fill="none" stroke="#555" stroke-width="0.5"/><text x="0" y="19.8" font-family='"Liberation Sans", sans-serif' font-weight="bold" font-size="4.6" stroke="#222" stroke-width="0.3" textLength="92" lengthAdjust="spacingAndGlyphs" fill="#222">TUDO PARA BRICOLAGE</text><text x="0" y="26.3" font-family='"Liberation Sans", sans-serif' font-style="italic" font-size="4.5" textLength="61" lengthAdjust="spacingAndGlyphs" fill="#777">De pequeno, não temos!</text></g>
<path d="M341.84,875.49 A12.3,12.3 0 0 1 349.19,868.14" fill="none" stroke="#1f6e3c" stroke-width="3.4" opacity="1"/><path d="M348.79,868.30 A12.3,12.3 0 0 1 359.55,869.05" fill="none" stroke="#3f9a4e" stroke-width="3.4" opacity="1"/><path d="M359.17,868.84 A12.3,12.3 0 0 1 364.55,874.50" fill="none" stroke="#a9cf6a" stroke-width="3.4" opacity="0.8"/><path d="M364.36,874.12 A12.3,12.3 0 0 1 364.55,884.90" fill="none" stroke="#f1da6a" stroke-width="3.4" opacity="0.6"/><path d="M364.55,884.90 A12.3,12.3 0 0 1 357.61,891.26" fill="none" stroke="#d9a45c" stroke-width="3.4" opacity="0.7"/><path d="M358.01,891.10 A12.3,12.3 0 0 1 348.20,890.85" fill="none" stroke="#b06a55" stroke-width="3.4" opacity="0.9"/><path d="M348.59,891.02 A12.3,12.3 0 0 1 341.84,883.91" fill="none" stroke="#a5403e" stroke-width="3.4" opacity="1"/><circle cx="353.40" cy="879.70" r="7.3" fill="#fff" stroke="#1b1b1b" stroke-width="2.2"/><path d="M354.90,876.20 C350.90,875.70 349.90,880.70 352.40,882.90 C354.40,884.20 356.90,881.70 355.90,879.70" fill="none" stroke="#1e1e1e" stroke-width="2.1"/><circle cx="358.20" cy="881.70" r="1.2" fill="#111"/><rect x="367.8" y="868.0" width="24" height="21.8" fill="#e08a3e"/><text x="379.8" y="884.4" text-anchor="middle" font-family='"Liberation Sans", sans-serif' font-weight="bold" font-size="15" fill="#fff" fill-opacity="0.6">D</text>
<g transform="translate(594.9,819.5)"><path d="M1.25,12.5 V3.2 Q1.25,1.25 3.2,1.25 H16.8 Q18.75,1.25 18.75,3.2 V12.5 M10,1.25 V12.5 M35.4,1.25 H25 Q23.1,1.25 23.1,3.2 V9.3 Q23.1,11.25 25,11.25 H33.5 Q35.4,11.25 35.4,9.3 V1.25 M35.4,9 V12.5 M50.2,1.25 H40.5 Q38.6,1.25 38.6,3.2 V4.4 Q38.6,6.3 40.5,6.3 H48.3 Q50.2,6.3 50.2,8.2 V9.3 Q50.2,11.25 48.3,11.25 H38.3 M53.6,1.25 H64.6 M58.6,1.25 V9.3 Q58.6,11.25 60.5,11.25 H63.5 M68.2,6.4 H80.4 V3.2 Q80.4,1.25 78.5,1.25 H70.1 Q68.2,1.25 68.2,3.2 V9.3 Q68.2,11.25 70.1,11.25 H80.8 M85.2,12.5 V3.2 Q85.2,1.25 87.1,1.25 H93.6" fill="none" stroke="url(#gmaster)" stroke-width="2.7"/><path d="M96.2,0.8 V11.9 M96.2,4.5 H103.2 Q104.9,4.5 104.9,6.2 V10.2 Q104.9,11.9 103.2,11.9 H96.2 M108.3,12.9 V6.4 Q108.3,4.5 110.2,4.5 H114 M117.4,4.5 V12.9 M117.4,1.2 V2.8 M128.5,4.5 H122.4 Q120.6,4.5 120.6,6.3 V10.1 Q120.6,11.9 122.4,11.9 H128.5 M133.6,4.5 H138.8 Q140.6,4.5 140.6,6.3 V10.1 Q140.6,11.9 138.8,11.9 H133.6 Q131.8,11.9 131.8,10.1 V6.3 Q131.8,4.5 133.6,4.5 Z" fill="none" stroke="#1c1c1c" stroke-width="2.3"/><circle cx="142.5" cy="4.5" r="1" fill="none" stroke="#555" stroke-width="0.5"/><text x="0" y="19.8" font-family='"Liberation Sans", sans-serif' font-weight="bold" font-size="4.6" stroke="#222" stroke-width="0.3" textLength="92" lengthAdjust="spacingAndGlyphs" fill="#222">TUDO PARA BRICOLAGE</text><text x="0" y="26.3" font-family='"Liberation Sans", sans-serif' font-style="italic" font-size="4.5" textLength="61" lengthAdjust="spacingAndGlyphs" fill="#777">De pequeno, não temos!</text></g>
<path d="M596.94,875.49 A12.3,12.3 0 0 1 604.29,868.14" fill="none" stroke="#1f6e3c" stroke-width="3.4" opacity="1"/><path d="M603.89,868.30 A12.3,12.3 0 0 1 614.65,869.05" fill="none" stroke="#3f9a4e" stroke-width="3.4" opacity="1"/><path d="M614.27,868.84 A12.3,12.3 0 0 1 619.65,874.50" fill="none" stroke="#a9cf6a" stroke-width="3.4" opacity="0.8"/><path d="M619.46,874.12 A12.3,12.3 0 0 1 619.65,884.90" fill="none" stroke="#f1da6a" stroke-width="3.4" opacity="0.6"/><path d="M619.65,884.90 A12.3,12.3 0 0 1 612.71,891.26" fill="none" stroke="#d9a45c" stroke-width="3.4" opacity="0.7"/><path d="M613.11,891.10 A12.3,12.3 0 0 1 603.30,890.85" fill="none" stroke="#b06a55" stroke-width="3.4" opacity="0.9"/><path d="M603.69,891.02 A12.3,12.3 0 0 1 596.94,883.91" fill="none" stroke="#a5403e" stroke-width="3.4" opacity="1"/><circle cx="608.50" cy="879.70" r="7.3" fill="#fff" stroke="#1b1b1b" stroke-width="2.2"/><path d="M610.00,876.20 C606.00,875.70 605.00,880.70 607.50,882.90 C609.50,884.20 612.00,881.70 611.00,879.70" fill="none" stroke="#1e1e1e" stroke-width="2.1"/><circle cx="613.30" cy="881.70" r="1.2" fill="#111"/><rect x="622.9" y="868.0" width="24" height="21.8" fill="#e08a3e"/><text x="634.9" y="884.4" text-anchor="middle" font-family='"Liberation Sans", sans-serif' font-weight="bold" font-size="15" fill="#fff" fill-opacity="0.6">D</text>
<g transform="translate(850.2,819.5)"><path d="M1.25,12.5 V3.2 Q1.25,1.25 3.2,1.25 H16.8 Q18.75,1.25 18.75,3.2 V12.5 M10,1.25 V12.5 M35.4,1.25 H25 Q23.1,1.25 23.1,3.2 V9.3 Q23.1,11.25 25,11.25 H33.5 Q35.4,11.25 35.4,9.3 V1.25 M35.4,9 V12.5 M50.2,1.25 H40.5 Q38.6,1.25 38.6,3.2 V4.4 Q38.6,6.3 40.5,6.3 H48.3 Q50.2,6.3 50.2,8.2 V9.3 Q50.2,11.25 48.3,11.25 H38.3 M53.6,1.25 H64.6 M58.6,1.25 V9.3 Q58.6,11.25 60.5,11.25 H63.5 M68.2,6.4 H80.4 V3.2 Q80.4,1.25 78.5,1.25 H70.1 Q68.2,1.25 68.2,3.2 V9.3 Q68.2,11.25 70.1,11.25 H80.8 M85.2,12.5 V3.2 Q85.2,1.25 87.1,1.25 H93.6" fill="none" stroke="url(#gmaster)" stroke-width="2.7"/><path d="M96.2,0.8 V11.9 M96.2,4.5 H103.2 Q104.9,4.5 104.9,6.2 V10.2 Q104.9,11.9 103.2,11.9 H96.2 M108.3,12.9 V6.4 Q108.3,4.5 110.2,4.5 H114 M117.4,4.5 V12.9 M117.4,1.2 V2.8 M128.5,4.5 H122.4 Q120.6,4.5 120.6,6.3 V10.1 Q120.6,11.9 122.4,11.9 H128.5 M133.6,4.5 H138.8 Q140.6,4.5 140.6,6.3 V10.1 Q140.6,11.9 138.8,11.9 H133.6 Q131.8,11.9 131.8,10.1 V6.3 Q131.8,4.5 133.6,4.5 Z" fill="none" stroke="#1c1c1c" stroke-width="2.3"/><circle cx="142.5" cy="4.5" r="1" fill="none" stroke="#555" stroke-width="0.5"/><text x="0" y="19.8" font-family='"Liberation Sans", sans-serif' font-weight="bold" font-size="4.6" stroke="#222" stroke-width="0.3" textLength="92" lengthAdjust="spacingAndGlyphs" fill="#222">TUDO PARA BRICOLAGE</text><text x="0" y="26.3" font-family='"Liberation Sans", sans-serif' font-style="italic" font-size="4.5" textLength="61" lengthAdjust="spacingAndGlyphs" fill="#777">De pequeno, não temos!</text></g>
<path d="M852.24,875.49 A12.3,12.3 0 0 1 859.59,868.14" fill="none" stroke="#1f6e3c" stroke-width="3.4" opacity="1"/><path d="M859.19,868.30 A12.3,12.3 0 0 1 869.95,869.05" fill="none" stroke="#3f9a4e" stroke-width="3.4" opacity="1"/><path d="M869.57,868.84 A12.3,12.3 0 0 1 874.95,874.50" fill="none" stroke="#a9cf6a" stroke-width="3.4" opacity="0.8"/><path d="M874.76,874.12 A12.3,12.3 0 0 1 874.95,884.90" fill="none" stroke="#f1da6a" stroke-width="3.4" opacity="0.6"/><path d="M874.95,884.90 A12.3,12.3 0 0 1 868.01,891.26" fill="none" stroke="#d9a45c" stroke-width="3.4" opacity="0.7"/><path d="M868.41,891.10 A12.3,12.3 0 0 1 858.60,890.85" fill="none" stroke="#b06a55" stroke-width="3.4" opacity="0.9"/><path d="M858.99,891.02 A12.3,12.3 0 0 1 852.24,883.91" fill="none" stroke="#a5403e" stroke-width="3.4" opacity="1"/><circle cx="863.80" cy="879.70" r="7.3" fill="#fff" stroke="#1b1b1b" stroke-width="2.2"/><path d="M865.30,876.20 C861.30,875.70 860.30,880.70 862.80,882.90 C864.80,884.20 867.30,881.70 866.30,879.70" fill="none" stroke="#1e1e1e" stroke-width="2.1"/><circle cx="868.60" cy="881.70" r="1.2" fill="#111"/><rect x="878.2" y="868.0" width="24" height="21.8" fill="#e08a3e"/><text x="890.2" y="884.4" text-anchor="middle" font-family='"Liberation Sans", sans-serif' font-weight="bold" font-size="15" fill="#fff" fill-opacity="0.6">D</text>
<g transform="translate(1105.0,819.5)"><path d="M1.25,12.5 V3.2 Q1.25,1.25 3.2,1.25 H16.8 Q18.75,1.25 18.75,3.2 V12.5 M10,1.25 V12.5 M35.4,1.25 H25 Q23.1,1.25 23.1,3.2 V9.3 Q23.1,11.25 25,11.25 H33.5 Q35.4,11.25 35.4,9.3 V1.25 M35.4,9 V12.5 M50.2,1.25 H40.5 Q38.6,1.25 38.6,3.2 V4.4 Q38.6,6.3 40.5,6.3 H48.3 Q50.2,6.3 50.2,8.2 V9.3 Q50.2,11.25 48.3,11.25 H38.3 M53.6,1.25 H64.6 M58.6,1.25 V9.3 Q58.6,11.25 60.5,11.25 H63.5 M68.2,6.4 H80.4 V3.2 Q80.4,1.25 78.5,1.25 H70.1 Q68.2,1.25 68.2,3.2 V9.3 Q68.2,11.25 70.1,11.25 H80.8 M85.2,12.5 V3.2 Q85.2,1.25 87.1,1.25 H93.6" fill="none" stroke="url(#gmaster)" stroke-width="2.7"/><path d="M96.2,0.8 V11.9 M96.2,4.5 H103.2 Q104.9,4.5 104.9,6.2 V10.2 Q104.9,11.9 103.2,11.9 H96.2 M108.3,12.9 V6.4 Q108.3,4.5 110.2,4.5 H114 M117.4,4.5 V12.9 M117.4,1.2 V2.8 M128.5,4.5 H122.4 Q120.6,4.5 120.6,6.3 V10.1 Q120.6,11.9 122.4,11.9 H128.5 M133.6,4.5 H138.8 Q140.6,4.5 140.6,6.3 V10.1 Q140.6,11.9 138.8,11.9 H133.6 Q131.8,11.9 131.8,10.1 V6.3 Q131.8,4.5 133.6,4.5 Z" fill="none" stroke="#1c1c1c" stroke-width="2.3"/><circle cx="142.5" cy="4.5" r="1" fill="none" stroke="#555" stroke-width="0.5"/><text x="0" y="19.8" font-family='"Liberation Sans", sans-serif' font-weight="bold" font-size="4.6" stroke="#222" stroke-width="0.3" textLength="92" lengthAdjust="spacingAndGlyphs" fill="#222">TUDO PARA BRICOLAGE</text><text x="0" y="26.3" font-family='"Liberation Sans", sans-serif' font-style="italic" font-size="4.5" textLength="61" lengthAdjust="spacingAndGlyphs" fill="#777">De pequeno, não temos!</text></g>
<path d="M1107.04,875.49 A12.3,12.3 0 0 1 1114.39,868.14" fill="none" stroke="#1f6e3c" stroke-width="3.4" opacity="1"/><path d="M1113.99,868.30 A12.3,12.3 0 0 1 1124.75,869.05" fill="none" stroke="#3f9a4e" stroke-width="3.4" opacity="1"/><path d="M1124.37,868.84 A12.3,12.3 0 0 1 1129.75,874.50" fill="none" stroke="#a9cf6a" stroke-width="3.4" opacity="0.8"/><path d="M1129.56,874.12 A12.3,12.3 0 0 1 1129.75,884.90" fill="none" stroke="#f1da6a" stroke-width="3.4" opacity="0.6"/><path d="M1129.75,884.90 A12.3,12.3 0 0 1 1122.81,891.26" fill="none" stroke="#d9a45c" stroke-width="3.4" opacity="0.7"/><path d="M1123.21,891.10 A12.3,12.3 0 0 1 1113.40,890.85" fill="none" stroke="#b06a55" stroke-width="3.4" opacity="0.9"/><path d="M1113.79,891.02 A12.3,12.3 0 0 1 1107.04,883.91" fill="none" stroke="#a5403e" stroke-width="3.4" opacity="1"/><circle cx="1118.60" cy="879.70" r="7.3" fill="#fff" stroke="#1b1b1b" stroke-width="2.2"/><path d="M1120.10,876.20 C1116.10,875.70 1115.10,880.70 1117.60,882.90 C1119.60,884.20 1122.10,881.70 1121.10,879.70" fill="none" stroke="#1e1e1e" stroke-width="2.1"/><circle cx="1123.40" cy="881.70" r="1.2" fill="#111"/><rect x="1133.0" y="868.0" width="24" height="21.8" fill="#e08a3e"/><text x="1145.0" y="884.4" text-anchor="middle" font-family='"Liberation Sans", sans-serif' font-weight="bold" font-size="15" fill="#fff" fill-opacity="0.6">D</text>
<g transform="translate(180.00,768.00) rotate(40.41)"><path d="M0,-2.75 L122.65,-2.75 L132.65,0 L122.65,2.75 L0,2.75 Z" fill="#3b3f42"/><path d="M2,-0.66 L122.65,-0.66" stroke="#5e6265" stroke-width="1.65"/><path d="M-1.5,-6.50 L0.5,-6.50 L5,-2.75 L5,2.75 L0.5,6.50 L-1.5,6.50 Z" fill="#3b3f42"/></g>
<g transform="translate(423.00,769.00) rotate(38.69)"><path d="M0,-2.75 L121.97,-2.75 L131.97,0 L121.97,2.75 L0,2.75 Z" fill="#3b3f42"/><path d="M2,-0.66 L121.97,-0.66" stroke="#5e6265" stroke-width="1.65"/><path d="M-1.5,-6.50 L0.5,-6.50 L5,-2.75 L5,2.75 L0.5,6.50 L-1.5,6.50 Z" fill="#3b3f42"/></g>
<g transform="translate(699.00,767.50) rotate(40.74)"><path d="M0,-2.75 L124.09,-2.75 L134.09,0 L124.09,2.75 L0,2.75 Z" fill="#3b3f42"/><path d="M2,-0.66 L124.09,-0.66" stroke="#5e6265" stroke-width="1.65"/><path d="M-1.5,-6.50 L0.5,-6.50 L5,-2.75 L5,2.75 L0.5,6.50 L-1.5,6.50 Z" fill="#3b3f42"/></g>
<g transform="translate(945.50,764.60) rotate(38.90)"><path d="M0,-2.75 L137.13,-2.75 L147.13,0 L137.13,2.75 L0,2.75 Z" fill="#3b3f42"/><path d="M2,-0.66 L137.13,-0.66" stroke="#5e6265" stroke-width="1.65"/><path d="M-1.5,-6.50 L0.5,-6.50 L5,-2.75 L5,2.75 L0.5,6.50 L-1.5,6.50 Z" fill="#3b3f42"/></g>
<g transform="translate(1218.50,764.60) rotate(42.27)"><path d="M0,-2.75 L125.14,-2.75 L135.14,0 L125.14,2.75 L0,2.75 Z" fill="#3b3f42"/><path d="M2,-0.66 L125.14,-0.66" stroke="#5e6265" stroke-width="1.65"/><path d="M-1.5,-6.50 L0.5,-6.50 L5,-2.75 L5,2.75 L0.5,6.50 L-1.5,6.50 Z" fill="#3b3f42"/></g>
<g transform="translate(83.2,1075.0)"><path d="M1.25,12.5 V3.2 Q1.25,1.25 3.2,1.25 H16.8 Q18.75,1.25 18.75,3.2 V12.5 M10,1.25 V12.5 M35.4,1.25 H25 Q23.1,1.25 23.1,3.2 V9.3 Q23.1,11.25 25,11.25 H33.5 Q35.4,11.25 35.4,9.3 V1.25 M35.4,9 V12.5 M50.2,1.25 H40.5 Q38.6,1.25 38.6,3.2 V4.4 Q38.6,6.3 40.5,6.3 H48.3 Q50.2,6.3 50.2,8.2 V9.3 Q50.2,11.25 48.3,11.25 H38.3 M53.6,1.25 H64.6 M58.6,1.25 V9.3 Q58.6,11.25 60.5,11.25 H63.5 M68.2,6.4 H80.4 V3.2 Q80.4,1.25 78.5,1.25 H70.1 Q68.2,1.25 68.2,3.2 V9.3 Q68.2,11.25 70.1,11.25 H80.8 M85.2,12.5 V3.2 Q85.2,1.25 87.1,1.25 H93.6" fill="none" stroke="url(#gmaster)" stroke-width="2.7"/><path d="M96.2,0.8 V11.9 M96.2,4.5 H103.2 Q104.9,4.5 104.9,6.2 V10.2 Q104.9,11.9 103.2,11.9 H96.2 M108.3,12.9 V6.4 Q108.3,4.5 110.2,4.5 H114 M117.4,4.5 V12.9 M117.4,1.2 V2.8 M128.5,4.5 H122.4 Q120.6,4.5 120.6,6.3 V10.1 Q120.6,11.9 122.4,11.9 H128.5 M133.6,4.5 H138.8 Q140.6,4.5 140.6,6.3 V10.1 Q140.6,11.9 138.8,11.9 H133.6 Q131.8,11.9 131.8,10.1 V6.3 Q131.8,4.5 133.6,4.5 Z" fill="none" stroke="#1c1c1c" stroke-width="2.3"/><circle cx="142.5" cy="4.5" r="1" fill="none" stroke="#555" stroke-width="0.5"/><text x="0" y="19.8" font-family='"Liberation Sans", sans-serif' font-weight="bold" font-size="4.6" stroke="#222" stroke-width="0.3" textLength="92" lengthAdjust="spacingAndGlyphs" fill="#222">TUDO PARA BRICOLAGE</text><text x="0" y="26.3" font-family='"Liberation Sans", sans-serif' font-style="italic" font-size="4.5" textLength="61" lengthAdjust="spacingAndGlyphs" fill="#777">De pequeno, não temos!</text></g>
<path d="M85.24,1131.29 A12.3,12.3 0 0 1 92.59,1123.94" fill="none" stroke="#1f6e3c" stroke-width="3.4" opacity="1"/><path d="M92.19,1124.10 A12.3,12.3 0 0 1 102.95,1124.85" fill="none" stroke="#3f9a4e" stroke-width="3.4" opacity="1"/><path d="M102.57,1124.64 A12.3,12.3 0 0 1 107.95,1130.30" fill="none" stroke="#a9cf6a" stroke-width="3.4" opacity="0.8"/><path d="M107.76,1129.92 A12.3,12.3 0 0 1 107.95,1140.70" fill="none" stroke="#f1da6a" stroke-width="3.4" opacity="0.6"/><path d="M107.95,1140.70 A12.3,12.3 0 0 1 101.01,1147.06" fill="none" stroke="#d9a45c" stroke-width="3.4" opacity="0.7"/><path d="M101.41,1146.90 A12.3,12.3 0 0 1 91.60,1146.65" fill="none" stroke="#b06a55" stroke-width="3.4" opacity="0.9"/><path d="M91.99,1146.82 A12.3,12.3 0 0 1 85.24,1139.71" fill="none" stroke="#a5403e" stroke-width="3.4" opacity="1"/><circle cx="96.80" cy="1135.50" r="7.3" fill="#fff" stroke="#1b1b1b" stroke-width="2.2"/><path d="M98.30,1132.00 C94.30,1131.50 93.30,1136.50 95.80,1138.70 C97.80,1140.00 100.30,1137.50 99.30,1135.50" fill="none" stroke="#1e1e1e" stroke-width="2.1"/><circle cx="101.60" cy="1137.50" r="1.2" fill="#111"/><rect x="111.2" y="1123.8" width="24" height="21.8" fill="#e08a3e"/><text x="123.2" y="1140.2" text-anchor="middle" font-family='"Liberation Sans", sans-serif' font-weight="bold" font-size="15" fill="#fff" fill-opacity="0.6">D</text>
<g transform="translate(340.3,1088.0)"><path d="M12.5,-4.2 L28.5,-4.2 L31,1 L30.5,11 L27,14.5" fill="none" stroke="#b9b9b9" stroke-width="1.3"/><path d="M27.5,0 L7,0 C2.5,0 0,3 0,6.5 L0,8.5 C0,12.5 2.5,15 7,15 L23,15 C25.5,15 27,13.5 27.3,11 L8.5,11 C6.3,11 5.6,10 5.6,8.3 L5.6,6.8 C5.6,5 6.3,4 8.5,4 L27.5,4 Z" fill="#111"/><text x="33.2" y="10.3" font-family='"Liberation Sans", sans-serif' font-weight="bold" font-size="14" textLength="100.6" lengthAdjust="spacingAndGlyphs" fill="#111" stroke="#111" stroke-width="0.85">STANDERS</text></g>
<path d="M342.34,1131.29 A12.3,12.3 0 0 1 349.69,1123.94" fill="none" stroke="#1f6e3c" stroke-width="3.4" opacity="1"/><path d="M349.29,1124.10 A12.3,12.3 0 0 1 360.05,1124.85" fill="none" stroke="#3f9a4e" stroke-width="3.4" opacity="1"/><path d="M359.67,1124.64 A12.3,12.3 0 0 1 365.05,1130.30" fill="none" stroke="#a9cf6a" stroke-width="3.4" opacity="0.8"/><path d="M364.86,1129.92 A12.3,12.3 0 0 1 365.05,1140.70" fill="none" stroke="#f1da6a" stroke-width="3.4" opacity="0.6"/><path d="M365.05,1140.70 A12.3,12.3 0 0 1 358.11,1147.06" fill="none" stroke="#d9a45c" stroke-width="3.4" opacity="0.7"/><path d="M358.51,1146.90 A12.3,12.3 0 0 1 348.70,1146.65" fill="none" stroke="#b06a55" stroke-width="3.4" opacity="0.9"/><path d="M349.09,1146.82 A12.3,12.3 0 0 1 342.34,1139.71" fill="none" stroke="#a5403e" stroke-width="3.4" opacity="1"/><circle cx="353.90" cy="1135.50" r="7.3" fill="#fff" stroke="#1b1b1b" stroke-width="2.2"/><path d="M355.40,1132.00 C351.40,1131.50 350.40,1136.50 352.90,1138.70 C354.90,1140.00 357.40,1137.50 356.40,1135.50" fill="none" stroke="#1e1e1e" stroke-width="2.1"/><circle cx="358.70" cy="1137.50" r="1.2" fill="#111"/><rect x="368.3" y="1123.8" width="24" height="21.8" fill="#ecc43c"/><text x="380.3" y="1140.2" text-anchor="middle" font-family='"Liberation Sans", sans-serif' font-weight="bold" font-size="15" fill="#fff" fill-opacity="0.6">C</text>
<g transform="translate(595.8,1088.0)"><path d="M12.5,-4.2 L28.5,-4.2 L31,1 L30.5,11 L27,14.5" fill="none" stroke="#b9b9b9" stroke-width="1.3"/><path d="M27.5,0 L7,0 C2.5,0 0,3 0,6.5 L0,8.5 C0,12.5 2.5,15 7,15 L23,15 C25.5,15 27,13.5 27.3,11 L8.5,11 C6.3,11 5.6,10 5.6,8.3 L5.6,6.8 C5.6,5 6.3,4 8.5,4 L27.5,4 Z" fill="#111"/><text x="33.2" y="10.3" font-family='"Liberation Sans", sans-serif' font-weight="bold" font-size="14" textLength="100.6" lengthAdjust="spacingAndGlyphs" fill="#111" stroke="#111" stroke-width="0.85">STANDERS</text></g>
<path d="M597.84,1131.29 A12.3,12.3 0 0 1 605.19,1123.94" fill="none" stroke="#1f6e3c" stroke-width="3.4" opacity="1"/><path d="M604.79,1124.10 A12.3,12.3 0 0 1 615.55,1124.85" fill="none" stroke="#3f9a4e" stroke-width="3.4" opacity="1"/><path d="M615.17,1124.64 A12.3,12.3 0 0 1 620.55,1130.30" fill="none" stroke="#a9cf6a" stroke-width="3.4" opacity="0.8"/><path d="M620.36,1129.92 A12.3,12.3 0 0 1 620.55,1140.70" fill="none" stroke="#f1da6a" stroke-width="3.4" opacity="0.6"/><path d="M620.55,1140.70 A12.3,12.3 0 0 1 613.61,1147.06" fill="none" stroke="#d9a45c" stroke-width="3.4" opacity="0.7"/><path d="M614.01,1146.90 A12.3,12.3 0 0 1 604.20,1146.65" fill="none" stroke="#b06a55" stroke-width="3.4" opacity="0.9"/><path d="M604.59,1146.82 A12.3,12.3 0 0 1 597.84,1139.71" fill="none" stroke="#a5403e" stroke-width="3.4" opacity="1"/><circle cx="609.40" cy="1135.50" r="7.3" fill="#fff" stroke="#1b1b1b" stroke-width="2.2"/><path d="M610.90,1132.00 C606.90,1131.50 605.90,1136.50 608.40,1138.70 C610.40,1140.00 612.90,1137.50 611.90,1135.50" fill="none" stroke="#1e1e1e" stroke-width="2.1"/><circle cx="614.20" cy="1137.50" r="1.2" fill="#111"/><rect x="623.8" y="1123.8" width="24" height="21.8" fill="#ecc43c"/><text x="635.8" y="1140.2" text-anchor="middle" font-family='"Liberation Sans", sans-serif' font-weight="bold" font-size="15" fill="#fff" fill-opacity="0.6">C</text>
<g transform="translate(851.3,1134.2)"><path d="M12.5,-4.2 L28.5,-4.2 L31,1 L30.5,11 L27,14.5" fill="none" stroke="#b9b9b9" stroke-width="1.3"/><path d="M27.5,0 L7,0 C2.5,0 0,3 0,6.5 L0,8.5 C0,12.5 2.5,15 7,15 L23,15 C25.5,15 27,13.5 27.3,11 L8.5,11 C6.3,11 5.6,10 5.6,8.3 L5.6,6.8 C5.6,5 6.3,4 8.5,4 L27.5,4 Z" fill="#111"/><text x="33.2" y="10.3" font-family='"Liberation Sans", sans-serif' font-weight="bold" font-size="14" textLength="100.6" lengthAdjust="spacingAndGlyphs" fill="#111" stroke="#111" stroke-width="0.85">STANDERS</text></g>
<g transform="translate(1106.7,1088.0)"><path d="M12.5,-4.2 L28.5,-4.2 L31,1 L30.5,11 L27,14.5" fill="none" stroke="#b9b9b9" stroke-width="1.3"/><path d="M27.5,0 L7,0 C2.5,0 0,3 0,6.5 L0,8.5 C0,12.5 2.5,15 7,15 L23,15 C25.5,15 27,13.5 27.3,11 L8.5,11 C6.3,11 5.6,10 5.6,8.3 L5.6,6.8 C5.6,5 6.3,4 8.5,4 L27.5,4 Z" fill="#111"/><text x="33.2" y="10.3" font-family='"Liberation Sans", sans-serif' font-weight="bold" font-size="14" textLength="100.6" lengthAdjust="spacingAndGlyphs" fill="#111" stroke="#111" stroke-width="0.85">STANDERS</text></g>
<path d="M1108.74,1131.29 A12.3,12.3 0 0 1 1116.09,1123.94" fill="none" stroke="#1f6e3c" stroke-width="3.4" opacity="1"/><path d="M1115.69,1124.10 A12.3,12.3 0 0 1 1126.45,1124.85" fill="none" stroke="#3f9a4e" stroke-width="3.4" opacity="1"/><path d="M1126.07,1124.64 A12.3,12.3 0 0 1 1131.45,1130.30" fill="none" stroke="#a9cf6a" stroke-width="3.4" opacity="0.8"/><path d="M1131.26,1129.92 A12.3,12.3 0 0 1 1131.45,1140.70" fill="none" stroke="#f1da6a" stroke-width="3.4" opacity="0.6"/><path d="M1131.45,1140.70 A12.3,12.3 0 0 1 1124.51,1147.06" fill="none" stroke="#d9a45c" stroke-width="3.4" opacity="0.7"/><path d="M1124.91,1146.90 A12.3,12.3 0 0 1 1115.10,1146.65" fill="none" stroke="#b06a55" stroke-width="3.4" opacity="0.9"/><path d="M1115.49,1146.82 A12.3,12.3 0 0 1 1108.74,1139.71" fill="none" stroke="#a5403e" stroke-width="3.4" opacity="1"/><circle cx="1120.30" cy="1135.50" r="7.3" fill="#fff" stroke="#1b1b1b" stroke-width="2.2"/><path d="M1121.80,1132.00 C1117.80,1131.50 1116.80,1136.50 1119.30,1138.70 C1121.30,1140.00 1123.80,1137.50 1122.80,1135.50" fill="none" stroke="#1e1e1e" stroke-width="2.1"/><circle cx="1125.10" cy="1137.50" r="1.2" fill="#111"/><rect x="1134.7" y="1123.8" width="24" height="21.8" fill="#ecc43c"/><text x="1146.7" y="1140.2" text-anchor="middle" font-family='"Liberation Sans", sans-serif' font-weight="bold" font-size="15" fill="#fff" fill-opacity="0.6">C</text>
<g transform="translate(208.00,1032.70) rotate(45.00)"><path d="M0,-2.50 L108.79,-2.50 L118.79,0 L108.79,2.50 L0,2.50 Z" fill="#3e4245"/><path d="M2,-0.60 L108.79,-0.60" stroke="#65696c" stroke-width="1.50"/><path d="M-1.5,-6.00 L0.5,-6.00 L5,-2.50 L5,2.50 L0.5,6.00 L-1.5,6.00 Z" fill="#3e4245"/></g>
<g transform="translate(427.00,1031.70) rotate(38.86)"><path d="M0,-2.25 L126.76,-2.25 L136.76,0 L126.76,2.25 L0,2.25 Z" fill="#8c9094"/><path d="M2,-0.54 L126.76,-0.54" stroke="#c3c6c9" stroke-width="1.35"/><ellipse cx="-1" cy="0" rx="4" ry="5.50" fill="#b3b6b9" stroke="#777" stroke-width="0.8"/></g>
<g transform="translate(690.00,1036.00) rotate(38.07)"><path d="M0,-2.50 L126.55,-2.50 L136.55,0 L126.55,2.50 L0,2.50 Z" fill="#8e9296"/><path d="M2,-0.60 L126.55,-0.60" stroke="#c0c3c6" stroke-width="1.50"/><ellipse cx="-1" cy="0" rx="4" ry="6.00" fill="#a9acaf" stroke="#777" stroke-width="0.8"/></g>
<g transform="translate(929.00,1034.60) rotate(38.60)"><path d="M0,-2.25 L130.10,-2.25 L140.10,0 L130.10,2.25 L0,2.25 Z" fill="#7f8387"/><path d="M2,-0.54 L130.10,-0.54" stroke="#b5b8bb" stroke-width="1.35"/><path d="M-1.5,-5.50 L0.5,-5.50 L5,-2.25 L5,2.25 L0.5,5.50 L-1.5,5.50 Z" fill="#7f8387"/></g>
<g transform="translate(1194.00,1032.00) rotate(40.93)"><path d="M0,-1.50 L127.38,-1.50 L137.38,0 L127.38,1.50 L0,1.50 Z" fill="#9a9ea2"/><path d="M2,-0.36 L127.38,-0.36" stroke="#c9cbcd" stroke-width="0.90"/></g>
<g transform="translate(85.8,1410.0)"><path d="M12.5,-4.2 L28.5,-4.2 L31,1 L30.5,11 L27,14.5" fill="none" stroke="#b9b9b9" stroke-width="1.3"/><path d="M27.5,0 L7,0 C2.5,0 0,3 0,6.5 L0,8.5 C0,12.5 2.5,15 7,15 L23,15 C25.5,15 27,13.5 27.3,11 L8.5,11 C6.3,11 5.6,10 5.6,8.3 L5.6,6.8 C5.6,5 6.3,4 8.5,4 L27.5,4 Z" fill="#111"/><text x="33.2" y="10.3" font-family='"Liberation Sans", sans-serif' font-weight="bold" font-size="14" textLength="100.6" lengthAdjust="spacingAndGlyphs" fill="#111" stroke="#111" stroke-width="0.85">STANDERS</text></g>
<path d="M88.54,1452.49 A12.3,12.3 0 0 1 95.89,1445.14" fill="none" stroke="#1f6e3c" stroke-width="3.4" opacity="1"/><path d="M95.49,1445.30 A12.3,12.3 0 0 1 106.25,1446.05" fill="none" stroke="#3f9a4e" stroke-width="3.4" opacity="1"/><path d="M105.87,1445.84 A12.3,12.3 0 0 1 111.25,1451.50" fill="none" stroke="#a9cf6a" stroke-width="3.4" opacity="0.8"/><path d="M111.06,1451.12 A12.3,12.3 0 0 1 111.25,1461.90" fill="none" stroke="#f1da6a" stroke-width="3.4" opacity="0.6"/><path d="M111.25,1461.90 A12.3,12.3 0 0 1 104.31,1468.26" fill="none" stroke="#d9a45c" stroke-width="3.4" opacity="0.7"/><path d="M104.71,1468.10 A12.3,12.3 0 0 1 94.90,1467.85" fill="none" stroke="#b06a55" stroke-width="3.4" opacity="0.9"/><path d="M95.29,1468.02 A12.3,12.3 0 0 1 88.54,1460.91" fill="none" stroke="#a5403e" stroke-width="3.4" opacity="1"/><circle cx="100.10" cy="1456.70" r="7.3" fill="#fff" stroke="#1b1b1b" stroke-width="2.2"/><path d="M101.60,1453.20 C97.60,1452.70 96.60,1457.70 99.10,1459.90 C101.10,1461.20 103.60,1458.70 102.60,1456.70" fill="none" stroke="#1e1e1e" stroke-width="2.1"/><circle cx="104.90" cy="1458.70" r="1.2" fill="#111"/><rect x="114.5" y="1445.0" width="24" height="21.8" fill="#ecc43c"/><text x="126.5" y="1461.4" text-anchor="middle" font-family='"Liberation Sans", sans-serif' font-weight="bold" font-size="15" fill="#fff" fill-opacity="0.6">C</text>
<g transform="translate(433.4,1410.0)"><path d="M12.5,-4.2 L28.5,-4.2 L31,1 L30.5,11 L27,14.5" fill="none" stroke="#b9b9b9" stroke-width="1.3"/><path d="M27.5,0 L7,0 C2.5,0 0,3 0,6.5 L0,8.5 C0,12.5 2.5,15 7,15 L23,15 C25.5,15 27,13.5 27.3,11 L8.5,11 C6.3,11 5.6,10 5.6,8.3 L5.6,6.8 C5.6,5 6.3,4 8.5,4 L27.5,4 Z" fill="#111"/><text x="33.2" y="10.3" font-family='"Liberation Sans", sans-serif' font-weight="bold" font-size="14" textLength="100.6" lengthAdjust="spacingAndGlyphs" fill="#111" stroke="#111" stroke-width="0.85">STANDERS</text></g>
<path d="M435.44,1452.49 A12.3,12.3 0 0 1 442.79,1445.14" fill="none" stroke="#1f6e3c" stroke-width="3.4" opacity="1"/><path d="M442.39,1445.30 A12.3,12.3 0 0 1 453.15,1446.05" fill="none" stroke="#3f9a4e" stroke-width="3.4" opacity="1"/><path d="M452.77,1445.84 A12.3,12.3 0 0 1 458.15,1451.50" fill="none" stroke="#a9cf6a" stroke-width="3.4" opacity="0.8"/><path d="M457.96,1451.12 A12.3,12.3 0 0 1 458.15,1461.90" fill="none" stroke="#f1da6a" stroke-width="3.4" opacity="0.6"/><path d="M458.15,1461.90 A12.3,12.3 0 0 1 451.21,1468.26" fill="none" stroke="#d9a45c" stroke-width="3.4" opacity="0.7"/><path d="M451.61,1468.10 A12.3,12.3 0 0 1 441.80,1467.85" fill="none" stroke="#b06a55" stroke-width="3.4" opacity="0.9"/><path d="M442.19,1468.02 A12.3,12.3 0 0 1 435.44,1460.91" fill="none" stroke="#a5403e" stroke-width="3.4" opacity="1"/><circle cx="447.00" cy="1456.70" r="7.3" fill="#fff" stroke="#1b1b1b" stroke-width="2.2"/><path d="M448.50,1453.20 C444.50,1452.70 443.50,1457.70 446.00,1459.90 C448.00,1461.20 450.50,1458.70 449.50,1456.70" fill="none" stroke="#1e1e1e" stroke-width="2.1"/><circle cx="451.80" cy="1458.70" r="1.2" fill="#111"/><rect x="461.4" y="1445.0" width="24" height="21.8" fill="#ecc43c"/><text x="473.4" y="1461.4" text-anchor="middle" font-family='"Liberation Sans", sans-serif' font-weight="bold" font-size="15" fill="#fff" fill-opacity="0.6">C</text>
<g transform="translate(787.9,1410.0)"><path d="M12.5,-4.2 L28.5,-4.2 L31,1 L30.5,11 L27,14.5" fill="none" stroke="#b9b9b9" stroke-width="1.3"/><path d="M27.5,0 L7,0 C2.5,0 0,3 0,6.5 L0,8.5 C0,12.5 2.5,15 7,15 L23,15 C25.5,15 27,13.5 27.3,11 L8.5,11 C6.3,11 5.6,10 5.6,8.3 L5.6,6.8 C5.6,5 6.3,4 8.5,4 L27.5,4 Z" fill="#111"/><text x="33.2" y="10.3" font-family='"Liberation Sans", sans-serif' font-weight="bold" font-size="14" textLength="100.6" lengthAdjust="spacingAndGlyphs" fill="#111" stroke="#111" stroke-width="0.85">STANDERS</text></g>
<path d="M790.74,1452.49 A12.3,12.3 0 0 1 798.09,1445.14" fill="none" stroke="#1f6e3c" stroke-width="3.4" opacity="1"/><path d="M797.69,1445.30 A12.3,12.3 0 0 1 808.45,1446.05" fill="none" stroke="#3f9a4e" stroke-width="3.4" opacity="1"/><path d="M808.07,1445.84 A12.3,12.3 0 0 1 813.45,1451.50" fill="none" stroke="#a9cf6a" stroke-width="3.4" opacity="0.8"/><path d="M813.26,1451.12 A12.3,12.3 0 0 1 813.45,1461.90" fill="none" stroke="#f1da6a" stroke-width="3.4" opacity="0.6"/><path d="M813.45,1461.90 A12.3,12.3 0 0 1 806.51,1468.26" fill="none" stroke="#d9a45c" stroke-width="3.4" opacity="0.7"/><path d="M806.91,1468.10 A12.3,12.3 0 0 1 797.10,1467.85" fill="none" stroke="#b06a55" stroke-width="3.4" opacity="0.9"/><path d="M797.49,1468.02 A12.3,12.3 0 0 1 790.74,1460.91" fill="none" stroke="#a5403e" stroke-width="3.4" opacity="1"/><circle cx="802.30" cy="1456.70" r="7.3" fill="#fff" stroke="#1b1b1b" stroke-width="2.2"/><path d="M803.80,1453.20 C799.80,1452.70 798.80,1457.70 801.30,1459.90 C803.30,1461.20 805.80,1458.70 804.80,1456.70" fill="none" stroke="#1e1e1e" stroke-width="2.1"/><circle cx="807.10" cy="1458.70" r="1.2" fill="#111"/><rect x="816.7" y="1445.0" width="24" height="21.8" fill="#ecc43c"/><text x="828.7" y="1461.4" text-anchor="middle" font-family='"Liberation Sans", sans-serif' font-weight="bold" font-size="15" fill="#fff" fill-opacity="0.6">C</text>
<g transform="translate(1089.4,1410.0)"><path d="M12.5,-4.2 L28.5,-4.2 L31,1 L30.5,11 L27,14.5" fill="none" stroke="#b9b9b9" stroke-width="1.3"/><path d="M27.5,0 L7,0 C2.5,0 0,3 0,6.5 L0,8.5 C0,12.5 2.5,15 7,15 L23,15 C25.5,15 27,13.5 27.3,11 L8.5,11 C6.3,11 5.6,10 5.6,8.3 L5.6,6.8 C5.6,5 6.3,4 8.5,4 L27.5,4 Z" fill="#111"/><text x="33.2" y="10.3" font-family='"Liberation Sans", sans-serif' font-weight="bold" font-size="14" textLength="100.6" lengthAdjust="spacingAndGlyphs" fill="#111" stroke="#111" stroke-width="0.85">STANDERS</text></g>
<path d="M1091.44,1452.49 A12.3,12.3 0 0 1 1098.79,1445.14" fill="none" stroke="#1f6e3c" stroke-width="3.4" opacity="1"/><path d="M1098.39,1445.30 A12.3,12.3 0 0 1 1109.15,1446.05" fill="none" stroke="#3f9a4e" stroke-width="3.4" opacity="1"/><path d="M1108.77,1445.84 A12.3,12.3 0 0 1 1114.15,1451.50" fill="none" stroke="#a9cf6a" stroke-width="3.4" opacity="0.8"/><path d="M1113.96,1451.12 A12.3,12.3 0 0 1 1114.15,1461.90" fill="none" stroke="#f1da6a" stroke-width="3.4" opacity="0.6"/><path d="M1114.15,1461.90 A12.3,12.3 0 0 1 1107.21,1468.26" fill="none" stroke="#d9a45c" stroke-width="3.4" opacity="0.7"/><path d="M1107.61,1468.10 A12.3,12.3 0 0 1 1097.80,1467.85" fill="none" stroke="#b06a55" stroke-width="3.4" opacity="0.9"/><path d="M1098.19,1468.02 A12.3,12.3 0 0 1 1091.44,1460.91" fill="none" stroke="#a5403e" stroke-width="3.4" opacity="1"/><circle cx="1103.00" cy="1456.70" r="7.3" fill="#fff" stroke="#1b1b1b" stroke-width="2.2"/><path d="M1104.50,1453.20 C1100.50,1452.70 1099.50,1457.70 1102.00,1459.90 C1104.00,1461.20 1106.50,1458.70 1105.50,1456.70" fill="none" stroke="#1e1e1e" stroke-width="2.1"/><circle cx="1107.80" cy="1458.70" r="1.2" fill="#111"/><rect x="1117.4" y="1445.0" width="24" height="21.8" fill="#ecc43c"/><text x="1129.4" y="1461.4" text-anchor="middle" font-family='"Liberation Sans", sans-serif' font-weight="bold" font-size="15" fill="#fff" fill-opacity="0.6">C</text>
<g transform="translate(182.00,1363.00) rotate(37.39)"><path d="M0,-3.50 L139.53,-3.50 L149.53,0 L139.53,3.50 L0,3.50 Z" fill="#9fa4a8"/><path d="M2,-0.84 L139.53,-0.84" stroke="#d8dadc" stroke-width="2.10"/><rect x="-2.2" y="-9.50" width="3.4" height="19.00" rx="1.2" fill="#8d9195"/></g>
<g transform="translate(182,1363) rotate(37.6)"><path d="M8,-3.3 L12,3.3" stroke="#7a7f83" stroke-width="1.3"/><path d="M15,-3.3 L19,3.3" stroke="#7a7f83" stroke-width="1.3"/><path d="M22,-3.3 L26,3.3" stroke="#7a7f83" stroke-width="1.3"/><path d="M29,-3.3 L33,3.3" stroke="#7a7f83" stroke-width="1.3"/><path d="M36,-3.3 L40,3.3" stroke="#7a7f83" stroke-width="1.3"/><path d="M43,-3.3 L47,3.3" stroke="#7a7f83" stroke-width="1.3"/><path d="M50,-3.3 L54,3.3" stroke="#7a7f83" stroke-width="1.3"/><path d="M57,-3.3 L61,3.3" stroke="#7a7f83" stroke-width="1.3"/><path d="M64,-3.3 L68,3.3" stroke="#7a7f83" stroke-width="1.3"/><path d="M71,-3.3 L75,3.3" stroke="#7a7f83" stroke-width="1.3"/><path d="M78,-3.3 L82,3.3" stroke="#7a7f83" stroke-width="1.3"/><path d="M85,-3.3 L89,3.3" stroke="#7a7f83" stroke-width="1.3"/><path d="M92,-3.3 L96,3.3" stroke="#7a7f83" stroke-width="1.3"/><path d="M99,-3.3 L103,3.3" stroke="#7a7f83" stroke-width="1.3"/><path d="M106,-3.3 L110,3.3" stroke="#7a7f83" stroke-width="1.3"/><path d="M113,-3.3 L117,3.3" stroke="#7a7f83" stroke-width="1.3"/><path d="M120,-3.3 L124,3.3" stroke="#7a7f83" stroke-width="1.3"/><path d="M127,-3.3 L131,3.3" stroke="#7a7f83" stroke-width="1.3"/><path d="M134,-3.3 L138,3.3" stroke="#7a7f83" stroke-width="1.3"/></g>
<g transform="translate(546.00,1376.40) rotate(36.06)"><path d="M0,-5.50 L117.41,-5.50 L127.41,0 L117.41,5.50 L0,5.50 Z" fill="#8b8f93"/><path d="M2,-1.32 L117.41,-1.32" stroke="#a9adb0" stroke-width="3.30"/><rect x="-2.2" y="-23.00" width="3.4" height="46.00" rx="1.2" fill="#7d8185"/></g>
<path d="M930,1347 L908,1370 Q905,1374 909,1378 L990,1459" fill="none" stroke="#9ea2a6" stroke-width="6.5" stroke-linecap="round" stroke-linejoin="round"/>
<path d="M930,1347 L908,1370 Q905,1374 909,1378 L990,1459" fill="none" stroke="#d6d8da" stroke-width="1.6" stroke-linecap="round"/>
<path d="M955,1424 L989,1458" stroke="#6f7377" stroke-width="6.5" stroke-dasharray="1.5 2.3"/>
<path d="M1235.5,1356 L1220,1374 Q1217,1378 1221,1382 L1300,1450" fill="none" stroke="#b2b5b8" stroke-width="6" stroke-linecap="round" stroke-linejoin="round"/>
<path d="M1235.5,1356 L1220,1374 Q1218,1377 1219,1379" fill="none" stroke="#262626" stroke-width="6" stroke-linecap="round"/>
<path d="M1232,1401 L1244,1389" stroke="#9a9ea2" stroke-width="3"/>
<g transform="translate(83.8,1719.2)"><path d="M12.5,-4.2 L28.5,-4.2 L31,1 L30.5,11 L27,14.5" fill="none" stroke="#b9b9b9" stroke-width="1.3"/><path d="M27.5,0 L7,0 C2.5,0 0,3 0,6.5 L0,8.5 C0,12.5 2.5,15 7,15 L23,15 C25.5,15 27,13.5 27.3,11 L8.5,11 C6.3,11 5.6,10 5.6,8.3 L5.6,6.8 C5.6,5 6.3,4 8.5,4 L27.5,4 Z" fill="#111"/><text x="33.2" y="10.3" font-family='"Liberation Sans", sans-serif' font-weight="bold" font-size="14" textLength="100.6" lengthAdjust="spacingAndGlyphs" fill="#111" stroke="#111" stroke-width="0.85">STANDERS</text></g>
<path d="M86.14,1761.99 A12.3,12.3 0 0 1 93.49,1754.64" fill="none" stroke="#1f6e3c" stroke-width="3.4" opacity="1"/><path d="M93.09,1754.80 A12.3,12.3 0 0 1 103.85,1755.55" fill="none" stroke="#3f9a4e" stroke-width="3.4" opacity="1"/><path d="M103.47,1755.34 A12.3,12.3 0 0 1 108.85,1761.00" fill="none" stroke="#a9cf6a" stroke-width="3.4" opacity="0.8"/><path d="M108.66,1760.62 A12.3,12.3 0 0 1 108.85,1771.40" fill="none" stroke="#f1da6a" stroke-width="3.4" opacity="0.6"/><path d="M108.85,1771.40 A12.3,12.3 0 0 1 101.91,1777.76" fill="none" stroke="#d9a45c" stroke-width="3.4" opacity="0.7"/><path d="M102.31,1777.60 A12.3,12.3 0 0 1 92.50,1777.35" fill="none" stroke="#b06a55" stroke-width="3.4" opacity="0.9"/><path d="M92.89,1777.52 A12.3,12.3 0 0 1 86.14,1770.41" fill="none" stroke="#a5403e" stroke-width="3.4" opacity="1"/><circle cx="97.70" cy="1766.20" r="7.3" fill="#fff" stroke="#1b1b1b" stroke-width="2.2"/><path d="M99.20,1762.70 C95.20,1762.20 94.20,1767.20 96.70,1769.40 C98.70,1770.70 101.20,1768.20 100.20,1766.20" fill="none" stroke="#1e1e1e" stroke-width="2.1"/><circle cx="102.50" cy="1768.20" r="1.2" fill="#111"/><rect x="112.1" y="1754.5" width="24" height="21.8" fill="#ecc43c"/><text x="124.1" y="1770.9" text-anchor="middle" font-family='"Liberation Sans", sans-serif' font-weight="bold" font-size="15" fill="#fff" fill-opacity="0.6">C</text>
<g transform="translate(430.8,1719.2)"><path d="M12.5,-4.2 L28.5,-4.2 L31,1 L30.5,11 L27,14.5" fill="none" stroke="#b9b9b9" stroke-width="1.3"/><path d="M27.5,0 L7,0 C2.5,0 0,3 0,6.5 L0,8.5 C0,12.5 2.5,15 7,15 L23,15 C25.5,15 27,13.5 27.3,11 L8.5,11 C6.3,11 5.6,10 5.6,8.3 L5.6,6.8 C5.6,5 6.3,4 8.5,4 L27.5,4 Z" fill="#111"/><text x="33.2" y="10.3" font-family='"Liberation Sans", sans-serif' font-weight="bold" font-size="14" textLength="100.6" lengthAdjust="spacingAndGlyphs" fill="#111" stroke="#111" stroke-width="0.85">STANDERS</text></g>
<path d="M433.64,1761.99 A12.3,12.3 0 0 1 440.99,1754.64" fill="none" stroke="#1f6e3c" stroke-width="3.4" opacity="1"/><path d="M440.59,1754.80 A12.3,12.3 0 0 1 451.35,1755.55" fill="none" stroke="#3f9a4e" stroke-width="3.4" opacity="1"/><path d="M450.97,1755.34 A12.3,12.3 0 0 1 456.35,1761.00" fill="none" stroke="#a9cf6a" stroke-width="3.4" opacity="0.8"/><path d="M456.16,1760.62 A12.3,12.3 0 0 1 456.35,1771.40" fill="none" stroke="#f1da6a" stroke-width="3.4" opacity="0.6"/><path d="M456.35,1771.40 A12.3,12.3 0 0 1 449.41,1777.76" fill="none" stroke="#d9a45c" stroke-width="3.4" opacity="0.7"/><path d="M449.81,1777.60 A12.3,12.3 0 0 1 440.00,1777.35" fill="none" stroke="#b06a55" stroke-width="3.4" opacity="0.9"/><path d="M440.39,1777.52 A12.3,12.3 0 0 1 433.64,1770.41" fill="none" stroke="#a5403e" stroke-width="3.4" opacity="1"/><circle cx="445.20" cy="1766.20" r="7.3" fill="#fff" stroke="#1b1b1b" stroke-width="2.2"/><path d="M446.70,1762.70 C442.70,1762.20 441.70,1767.20 444.20,1769.40 C446.20,1770.70 448.70,1768.20 447.70,1766.20" fill="none" stroke="#1e1e1e" stroke-width="2.1"/><circle cx="450.00" cy="1768.20" r="1.2" fill="#111"/><rect x="459.6" y="1754.5" width="24" height="21.8" fill="#e08a3e"/><text x="471.6" y="1770.9" text-anchor="middle" font-family='"Liberation Sans", sans-serif' font-weight="bold" font-size="15" fill="#fff" fill-opacity="0.6">D</text>
<g transform="translate(768.3,1719.2)"><path d="M12.5,-4.2 L28.5,-4.2 L31,1 L30.5,11 L27,14.5" fill="none" stroke="#b9b9b9" stroke-width="1.3"/><path d="M27.5,0 L7,0 C2.5,0 0,3 0,6.5 L0,8.5 C0,12.5 2.5,15 7,15 L23,15 C25.5,15 27,13.5 27.3,11 L8.5,11 C6.3,11 5.6,10 5.6,8.3 L5.6,6.8 C5.6,5 6.3,4 8.5,4 L27.5,4 Z" fill="#111"/><text x="33.2" y="10.3" font-family='"Liberation Sans", sans-serif' font-weight="bold" font-size="14" textLength="100.6" lengthAdjust="spacingAndGlyphs" fill="#111" stroke="#111" stroke-width="0.85">STANDERS</text></g>
<path d="M771.74,1761.99 A12.3,12.3 0 0 1 779.09,1754.64" fill="none" stroke="#1f6e3c" stroke-width="3.4" opacity="1"/><path d="M778.69,1754.80 A12.3,12.3 0 0 1 789.45,1755.55" fill="none" stroke="#3f9a4e" stroke-width="3.4" opacity="1"/><path d="M789.07,1755.34 A12.3,12.3 0 0 1 794.45,1761.00" fill="none" stroke="#a9cf6a" stroke-width="3.4" opacity="0.8"/><path d="M794.26,1760.62 A12.3,12.3 0 0 1 794.45,1771.40" fill="none" stroke="#f1da6a" stroke-width="3.4" opacity="0.6"/><path d="M794.45,1771.40 A12.3,12.3 0 0 1 787.51,1777.76" fill="none" stroke="#d9a45c" stroke-width="3.4" opacity="0.7"/><path d="M787.91,1777.60 A12.3,12.3 0 0 1 778.10,1777.35" fill="none" stroke="#b06a55" stroke-width="3.4" opacity="0.9"/><path d="M778.49,1777.52 A12.3,12.3 0 0 1 771.74,1770.41" fill="none" stroke="#a5403e" stroke-width="3.4" opacity="1"/><circle cx="783.30" cy="1766.20" r="7.3" fill="#fff" stroke="#1b1b1b" stroke-width="2.2"/><path d="M784.80,1762.70 C780.80,1762.20 779.80,1767.20 782.30,1769.40 C784.30,1770.70 786.80,1768.20 785.80,1766.20" fill="none" stroke="#1e1e1e" stroke-width="2.1"/><circle cx="788.10" cy="1768.20" r="1.2" fill="#111"/><rect x="797.7" y="1754.5" width="24" height="21.8" fill="#ecc43c"/><text x="809.7" y="1770.9" text-anchor="middle" font-family='"Liberation Sans", sans-serif' font-weight="bold" font-size="15" fill="#fff" fill-opacity="0.6">C</text>
<g transform="translate(1085.3,1719.2)"><path d="M12.5,-4.2 L28.5,-4.2 L31,1 L30.5,11 L27,14.5" fill="none" stroke="#b9b9b9" stroke-width="1.3"/><path d="M27.5,0 L7,0 C2.5,0 0,3 0,6.5 L0,8.5 C0,12.5 2.5,15 7,15 L23,15 C25.5,15 27,13.5 27.3,11 L8.5,11 C6.3,11 5.6,10 5.6,8.3 L5.6,6.8 C5.6,5 6.3,4 8.5,4 L27.5,4 Z" fill="#111"/><text x="33.2" y="10.3" font-family='"Liberation Sans", sans-serif' font-weight="bold" font-size="14" textLength="100.6" lengthAdjust="spacingAndGlyphs" fill="#111" stroke="#111" stroke-width="0.85">STANDERS</text></g>
<path d="M1088.04,1761.99 A12.3,12.3 0 0 1 1095.39,1754.64" fill="none" stroke="#1f6e3c" stroke-width="3.4" opacity="1"/><path d="M1094.99,1754.80 A12.3,12.3 0 0 1 1105.75,1755.55" fill="none" stroke="#3f9a4e" stroke-width="3.4" opacity="1"/><path d="M1105.37,1755.34 A12.3,12.3 0 0 1 1110.75,1761.00" fill="none" stroke="#a9cf6a" stroke-width="3.4" opacity="0.8"/><path d="M1110.56,1760.62 A12.3,12.3 0 0 1 1110.75,1771.40" fill="none" stroke="#f1da6a" stroke-width="3.4" opacity="0.6"/><path d="M1110.75,1771.40 A12.3,12.3 0 0 1 1103.81,1777.76" fill="none" stroke="#d9a45c" stroke-width="3.4" opacity="0.7"/><path d="M1104.21,1777.60 A12.3,12.3 0 0 1 1094.40,1777.35" fill="none" stroke="#b06a55" stroke-width="3.4" opacity="0.9"/><path d="M1094.79,1777.52 A12.3,12.3 0 0 1 1088.04,1770.41" fill="none" stroke="#a5403e" stroke-width="3.4" opacity="1"/><circle cx="1099.60" cy="1766.20" r="7.3" fill="#fff" stroke="#1b1b1b" stroke-width="2.2"/><path d="M1101.10,1762.70 C1097.10,1762.20 1096.10,1767.20 1098.60,1769.40 C1100.60,1770.70 1103.10,1768.20 1102.10,1766.20" fill="none" stroke="#1e1e1e" stroke-width="2.1"/><circle cx="1104.40" cy="1768.20" r="1.2" fill="#111"/><rect x="1114.0" y="1754.5" width="24" height="21.8" fill="#ecc43c"/><text x="1126.0" y="1770.9" text-anchor="middle" font-family='"Liberation Sans", sans-serif' font-weight="bold" font-size="15" fill="#fff" fill-opacity="0.6">C</text>
<path d="M262.1,1682.2 C256.0,1676.0 248.0,1674.3 239.5,1674.3 C226.0,1674.3 217.6,1684.0 217.6,1697.0 C217.6,1710.0 227.0,1718.8 239.5,1718.8 C247.0,1718.8 251.0,1716.5 257.5,1718.5 L303.0,1767.5" fill="none" stroke="#8e9397" stroke-width="7" stroke-linecap="round"/>
<path d="M262.1,1682.2 C256.0,1676.0 248.0,1674.3 239.5,1674.3 C226.0,1674.3 217.6,1684.0 217.6,1697.0 C217.6,1710.0 227.0,1718.8 239.5,1718.8 C247.0,1718.8 251.0,1716.5 257.5,1718.5 L303.0,1767.5" fill="none" stroke="#d5d8da" stroke-width="2" stroke-linecap="round" opacity="0.85"/>
<path d="M276.0,1737.5 L301.0,1765.0" stroke="#666b6f" stroke-width="6" stroke-dasharray="1.6 2.2"/>
<path d="M618.6,1680.7 C612.5,1674.5 604.5,1672.8 596.0,1672.8 C582.5,1672.8 574.1,1682.5 574.1,1695.5 C574.1,1708.5 583.5,1717.3 596.0,1717.3 C603.5,1717.3 607.5,1715.0 614.0,1717.0 L659.5,1766.0" fill="none" stroke="#5e5a3c" stroke-width="7" stroke-linecap="round"/>
<path d="M618.6,1680.7 C612.5,1674.5 604.5,1672.8 596.0,1672.8 C582.5,1672.8 574.1,1682.5 574.1,1695.5 C574.1,1708.5 583.5,1717.3 596.0,1717.3 C603.5,1717.3 607.5,1715.0 614.0,1717.0 L659.5,1766.0" fill="none" stroke="#8f8a62" stroke-width="2" stroke-linecap="round" opacity="0.85"/>
<path d="M632.5,1736.0 L657.5,1763.5" stroke="#4a472f" stroke-width="6" stroke-dasharray="1.6 2.2"/>
<path d="M958.7,1676.4 C955,1668 946,1666 940,1668.5 C931,1672 928,1683 933,1690 C937,1696 944,1695 950,1696 C956,1697 962,1700 969.6,1707.9 L1020,1757.4" fill="none" stroke="#7c8084" stroke-width="3.6" stroke-linecap="round"/>
<path d="M964,1713 L975,1702" stroke="#8d9195" stroke-width="3"/>
<circle cx="1235.5" cy="1689" r="21" fill="none" stroke="#a2a6aa" stroke-width="7.5"/>
<circle cx="1235.5" cy="1689" r="21" fill="none" stroke="#d3d6d8" stroke-width="2"/>
<path d="M1252,1707 L1306.6,1764" stroke="#9ea2a6" stroke-width="7.5" stroke-linecap="round"/>
<path d="M1258,1713 L1300,1757" stroke="#6f7377" stroke-width="7" stroke-dasharray="1.5 2.5"/>
<text transform="translate(1392.3,1656) rotate(-90)" x="0" y="0" font-family='"Liberation Sans", sans-serif' font-size="29" textLength="371.5" lengthAdjust="spacingAndGlyphs" fill="#2b2b2b">FERRAGENS E ORGANIZAÇÃO</text>
<text x="337.5" y="1964.3" font-family='"Liberation Sans", sans-serif' font-size="24" textLength="762" lengthAdjust="spacingAndGlyphs" fill="#f2f2f2">Consulte a disponibilidade dos produtos em loja ou em leroymerlin.pt.</text>
</svg>
<div class="tb" style="left:164.0px;top:245.00px"><span class="d">40</span> ANILHAS</div>
<div class="tb" style="left:164.0px;top:266.40px">RECARTILHADAS D<span class="d">5</span></div>
<div class="tr" style="left:164.0px;top:287.80px">Aço zincado.</div>
<div class="tb" style="left:482.4px;top:245.00px"><span class="d">80</span> ANILHAS DE</div>
<div class="tb" style="left:482.4px;top:266.40px">MOLA D<span class="d">4</span></div>
<div class="tr" style="left:482.4px;top:287.80px">Aço zincado.</div>
<div class="tb" style="left:801.3px;top:245.00px"><span class="d">25</span> ANILHAS PARA PLACAS</div>
<div class="tb" style="left:801.3px;top:266.40px">DE GESSO <span class="d">5</span>MM</div>
<div class="tr" style="left:801.3px;top:287.80px">Aço zincado.</div>
<div class="tb" style="left:1120.3px;top:245.00px"><span class="d">200</span> ANILHAS DUPLAS</div>
<div class="tb" style="left:1120.3px;top:266.40px">COM NEOPRENO <span class="d">19</span>MM</div>
<div class="tr" style="left:1120.3px;top:287.80px">Aço zincado.</div>
<div class="tb" style="left:164.4px;top:569.10px"><span class="d">20</span> PARAFUSOS</div>
<div class="tb" style="left:164.4px;top:590.70px">AUTOROSCANTES</div>
<div class="tb" style="left:164.4px;top:612.30px"><span class="d">4,8</span>X<span class="d">16</span>MM</div>
<div class="tr" style="left:164.4px;top:633.90px">Cabeça sextavada.</div>
<div class="tb" style="left:418.6px;top:569.10px"><span class="d">100</span> PARAFUSOS</div>
<div class="tb" style="left:418.6px;top:590.70px">AUTOROSCANTES</div>
<div class="tb" style="left:418.6px;top:612.30px"><span class="d">5,5</span>X<span class="d">25</span>MM</div>
<div class="tr" style="left:418.6px;top:633.90px">Cabeça sextavada.</div>
<div class="tb" style="left:673.6px;top:569.10px"><span class="d">200</span> PARAFUSOS</div>
<div class="tb" style="left:673.6px;top:590.70px">AUTOROSCANTES</div>
<div class="tb" style="left:673.6px;top:612.30px">PH <span class="d">4,2</span>X<span class="d">19</span>MM</div>
<div class="tr" style="left:673.6px;top:633.90px">Cabeça phillips.</div>
<div class="tb" style="left:928.4px;top:569.10px"><span class="d">200</span> PARAFUSOS</div>
<div class="tb" style="left:928.4px;top:590.70px">AUTOROSCANTES</div>
<div class="tb" style="left:928.4px;top:612.30px">PH <span class="d">3,5</span>X<span class="d">13</span>MM</div>
<div class="tr" style="left:928.4px;top:633.90px">Cabeça phillips.</div>
<div class="tb" style="left:1183.9px;top:569.10px"><span class="d">200</span> PARAFUSOS</div>
<div class="tb" style="left:1183.9px;top:590.70px">AUTOPERFURANTES</div>
<div class="tb" style="left:1183.9px;top:612.30px">C<span class="d">1</span> <span class="d">3,5</span>X<span class="d">13</span>MM</div>
<div class="tr" style="left:1183.9px;top:633.90px">Cabeça phillips.</div>
<div class="tb" style="left:164.4px;top:906.30px">CAIXA DE PREGOS</div>
<div class="tb" style="left:164.4px;top:927.90px">CAVILHA <span class="d">5</span>KG</div>
<div class="tb" style="left:164.4px;top:949.50px"><span class="d">125</span>MM</div>
<div class="tb" style="left:418.6px;top:906.30px">CAIXA DE PREGOS</div>
<div class="tb" style="left:418.6px;top:927.90px">TELHADO D<span class="d">8</span> <span class="d">5</span>KG</div>
<div class="tb" style="left:418.6px;top:949.50px"><span class="d">100</span>MM</div>
<div class="tb" style="left:673.6px;top:906.30px">CAIXA DE PREGOS</div>
<div class="tb" style="left:673.6px;top:927.90px">GALIOTA D<span class="d">10</span> <span class="d">5</span>KG</div>
<div class="tb" style="left:673.6px;top:949.50px"><span class="d">75</span>MM</div>
<div class="tb" style="left:928.4px;top:906.30px">CAIXA DE PREGOS</div>
<div class="tb" style="left:928.4px;top:927.90px"><span class="d">1/2</span> GALIOTA D<span class="d">11</span></div>
<div class="tb" style="left:928.4px;top:949.50px"><span class="d">5</span>KG <span class="d">65</span>MM</div>
<div class="tb" style="left:1183.9px;top:906.30px">CAIXA DE PREGOS</div>
<div class="tb" style="left:1183.9px;top:927.90px">SETIA D<span class="d">12</span> <span class="d">5</span>KG</div>
<div class="tb" style="left:1183.9px;top:949.50px"><span class="d">60</span>MM</div>
<div class="tb" style="left:164.4px;top:1162.90px">CAIXA DE PREGOS</div>
<div class="tb" style="left:164.4px;top:1184.50px">FRASQUIADO <span class="d">2</span></div>
<div class="tb" style="left:164.4px;top:1206.10px">D<span class="d">15</span> <span class="d">5</span>KG <span class="d">25</span>MM</div>
<div class="tb" style="left:418.6px;top:1162.90px"><span class="d">800</span> PREGOS SEM</div>
<div class="tb" style="left:418.6px;top:1184.50px">CABEÇA <span class="d">1</span>X<span class="d">16</span>MM</div>
<div class="tr" style="left:418.6px;top:1206.10px">Aço encerado.</div>
<div class="tb" style="left:673.6px;top:1162.90px"><span class="d">650</span> PREGOS</div>
<div class="tb" style="left:673.6px;top:1184.50px">CABEÇA CHATA</div>
<div class="tb" style="left:673.6px;top:1206.10px"><span class="d">1,8</span>X<span class="d">30</span>MM</div>
<div class="tr" style="left:673.6px;top:1227.70px">Aço encerado.</div>
<div class="tb" style="left:928.4px;top:1162.90px">PREGOS AO KG</div>
<div class="tb" style="left:928.4px;top:1184.50px">CABEÇA CHATA</div>
<div class="tb" style="left:928.4px;top:1206.10px"><span class="d">2,7</span>X<span class="d">60</span>MM</div>
<div class="tr" style="left:928.4px;top:1227.70px">Aço encerado.</div>
<div class="tb" style="left:1183.9px;top:1162.90px"><span class="d">680</span> PREGOS</div>
<div class="tb" style="left:1183.9px;top:1184.50px">PARA MOLDURA</div>
<div class="tb" style="left:1183.9px;top:1206.10px"><span class="d">0,9</span>X<span class="d">25</span>MM</div>
<div class="tr" style="left:1183.9px;top:1227.70px">Aço temperado.</div>
<div class="tb" style="left:164.4px;top:1483.80px"><span class="d">40</span> PREGOS</div>
<div class="tb" style="left:164.4px;top:1505.30px">ROSCADOS</div>
<div class="tb" style="left:164.4px;top:1526.80px">CABEÇA CHATA</div>
<div class="tb" style="left:164.4px;top:1548.30px"><span class="d">2,5</span>X<span class="d">40</span>MM</div>
<div class="tr" style="left:164.4px;top:1569.80px">Aço galvanizado.</div>
<div class="tb" style="left:510.5px;top:1483.80px"><span class="d">70</span> PREGOS</div>
<div class="tb" style="left:510.5px;top:1505.30px">CABEÇA CHATA</div>
<div class="tb" style="left:510.5px;top:1526.80px"><span class="d">3</span>X<span class="d">16</span>MM</div>
<div class="tr" style="left:510.5px;top:1548.30px">Aço galvanizado.</div>
<div class="tb" style="left:866.0px;top:1483.80px"><span class="d">20</span> ESCÁPULAS</div>
<div class="tb" style="left:866.0px;top:1505.30px">ROSCA <span class="d">2,5</span>X<span class="d">25</span>MM</div>
<div class="tr" style="left:866.0px;top:1526.80px">Aço zincado.</div>
<div class="tb" style="left:1166.0px;top:1483.80px"><span class="d">8</span> ESCÁPULAS</div>
<div class="tb" style="left:1166.0px;top:1505.30px">COM GOLA</div>
<div class="tb" style="left:1166.0px;top:1526.80px"><span class="d">4</span>X<span class="d">35</span>MM</div>
<div class="tr" style="left:1166.0px;top:1548.30px">Aço zincado.</div>
<div class="tb" style="left:164.4px;top:1793.50px"><span class="d">20</span> CAMARÕES</div>
<div class="tb" style="left:164.4px;top:1814.90px">ABERTOS <span class="d">2,5</span>X<span class="d">10</span>MM</div>
<div class="tr" style="left:164.4px;top:1836.30px">Aço zincado.</div>
<div class="tb" style="left:511.3px;top:1793.50px"><span class="d">20</span> CAMARÕES ABERTOS</div>
<div class="tb" style="left:511.3px;top:1814.90px"><span class="d">2,5</span>X<span class="d">10</span>MM</div>
<div class="tr" style="left:511.3px;top:1836.30px">Latão.</div>
<div class="tb" style="left:849.2px;top:1793.50px"><span class="d">8</span> CAMARÕES COM</div>
<div class="tb" style="left:849.2px;top:1814.90px">GOLA <span class="d">4</span>X<span class="d">40</span>MM</div>
<div class="tr" style="left:849.2px;top:1836.30px">Aço zincado.</div>
<div class="tb" style="left:1166.3px;top:1793.50px"><span class="d">20</span> PITÕES FECHADOS</div>
<div class="tb" style="left:1166.3px;top:1814.90px"><span class="d">2,5</span>X<span class="d">10</span>MM</div>
<div class="tr" style="left:1166.3px;top:1836.30px">Aço zincado.</div>
<div class="h" style="left:86.4px;top:365.59px;font-size:39px;width:1145.5px"><span style="transform:scaleX(1.0321)">Parafusos autoroscantes e autoperfurantes para chapa metálica</span></div>
<div class="h" style="left:85.6px;top:699.99px;font-size:39px;width:121px"><span style="transform:scaleX(0.9793)">Pregos</span></div>
<div class="h" style="left:751.0px;top:1288.99px;font-size:39px;width:180px"><span style="transform:scaleX(1.0003)">Escápulas</span></div>
<div class="h" style="left:86.0px;top:1610.99px;font-size:39px;width:181.5px"><span style="transform:scaleX(1.0089)">Camarões</span></div>
</body></html>
